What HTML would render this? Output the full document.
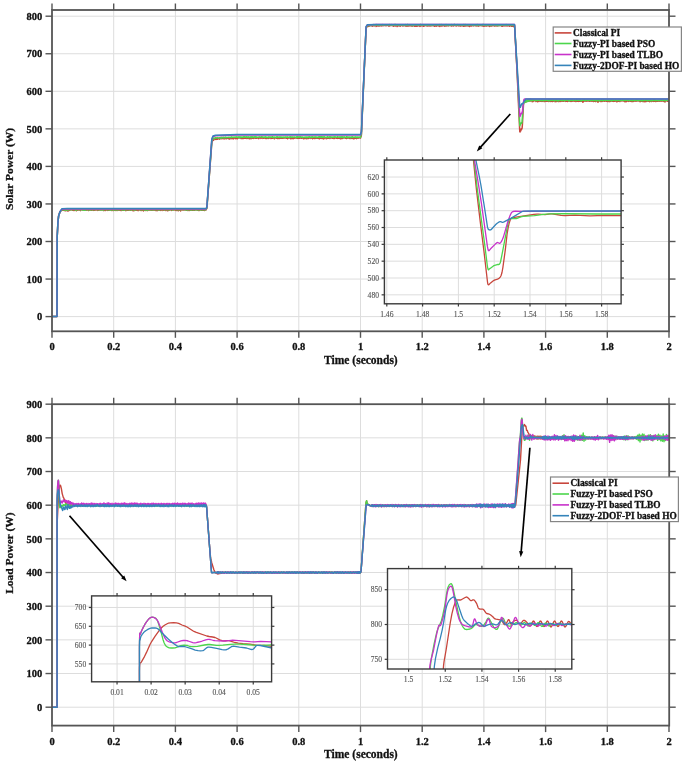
<!DOCTYPE html>
<html><head><meta charset="utf-8"><style>
html,body{margin:0;padding:0;background:#fff;}
svg{display:block;will-change:transform;}
</style></head><body>
<svg width="685" height="765" viewBox="0 0 685 765" font-family='"Liberation Serif", serif'>
<rect width="685" height="765" fill="#fff"/>
<line x1="113.7" y1="10" x2="113.7" y2="331.3" stroke="#dddddd" stroke-width="1" />
<line x1="175.4" y1="10" x2="175.4" y2="331.3" stroke="#dddddd" stroke-width="1" />
<line x1="237.1" y1="10" x2="237.1" y2="331.3" stroke="#dddddd" stroke-width="1" />
<line x1="298.8" y1="10" x2="298.8" y2="331.3" stroke="#dddddd" stroke-width="1" />
<line x1="360.5" y1="10" x2="360.5" y2="331.3" stroke="#dddddd" stroke-width="1" />
<line x1="422.2" y1="10" x2="422.2" y2="331.3" stroke="#dddddd" stroke-width="1" />
<line x1="483.9" y1="10" x2="483.9" y2="331.3" stroke="#dddddd" stroke-width="1" />
<line x1="545.6" y1="10" x2="545.6" y2="331.3" stroke="#dddddd" stroke-width="1" />
<line x1="607.3" y1="10" x2="607.3" y2="331.3" stroke="#dddddd" stroke-width="1" />
<line x1="52" y1="316.6" x2="669" y2="316.6" stroke="#dddddd" stroke-width="1" />
<line x1="52" y1="279.05" x2="669" y2="279.05" stroke="#dddddd" stroke-width="1" />
<line x1="52" y1="241.5" x2="669" y2="241.5" stroke="#dddddd" stroke-width="1" />
<line x1="52" y1="203.95" x2="669" y2="203.95" stroke="#dddddd" stroke-width="1" />
<line x1="52" y1="166.4" x2="669" y2="166.4" stroke="#dddddd" stroke-width="1" />
<line x1="52" y1="128.85" x2="669" y2="128.85" stroke="#dddddd" stroke-width="1" />
<line x1="52" y1="91.3" x2="669" y2="91.3" stroke="#dddddd" stroke-width="1" />
<line x1="52" y1="53.75" x2="669" y2="53.75" stroke="#dddddd" stroke-width="1" />
<line x1="52" y1="16.2" x2="669" y2="16.2" stroke="#dddddd" stroke-width="1" />
<clipPath id="c1"><rect x="52" y="10" width="617" height="321.3"/></clipPath>
<path d="M52,316.6 57,316.6 57.2,236.8 57.9,222.7 58.6,216.1 60,211.8 61.8,210.2 64.3,210.1 64.4,210.5 64.5,209.8 64.6,209.9 64.6,209.8 64.6,209.4 64.9,210.6 64.9,209.8 65,210.4 65.1,209.8 65.3,210.7 65.3,209.9 65.4,210.1 65.5,210 65.6,210.5 65.6,210.1 65.8,210.6 65.9,209.8 66,210.3 66.1,210.2 66.2,210.3 66.3,209.9 66.3,210.3 66.5,209.9 66.5,209.3 66.6,210.5 66.6,209.7 66.7,210 66.8,210 66.8,210.5 67,209.7 67.1,210.1 67.2,209.6 67.3,210.7 67.4,210.2 68,211.1 68.7,209.5 69.3,210.4 69.6,210.3 69.9,209.6 70.2,209.9 70.8,210 71.1,209.9 71.4,209.7 71.7,209.8 72.1,209.9 72.4,210.3 72.7,209.8 73,210.2 73.3,209.6 73.6,210.4 73.9,210 74.2,210 74.5,210.4 74.8,209.4 75.1,209.5 75.4,210.1 75.8,209.7 76.1,209.8 76.4,210.8 76.7,209.9 77.3,209.9 77.6,210.3 77.9,210 78.2,210 78.5,209.6 79.1,210 79.5,209.4 79.8,210.1 80.1,210.1 80.4,210.6 80.7,209.4 81,209.6 82.5,210 83.2,209.9 83.5,209.4 84.1,210 84.7,210.2 85,209.4 85.3,209.8 86.2,210.3 86.9,209.7 87.2,210.1 88.1,209.9 88.4,210.5 88.7,210 89,210.2 89.3,209.7 89.6,210.2 90.3,209.4 90.6,210.1 90.9,210.2 91.2,209.9 91.5,210 91.8,210.3 92.4,209.3 92.7,210 93,210 93.3,210.3 93.6,209.9 94,210.4 94.3,210.3 94.6,209.5 94.9,210.3 95.2,209.6 95.5,209.4 95.8,209.9 96.1,209.8 96.4,209.3 96.7,210 97.3,210.4 98,209.5 98.3,209.6 98.6,210.3 99.2,210.1 99.5,209.9 99.8,210 100.4,209.9 100.7,210.1 101.4,209.9 101.7,210 102,209.8 102.3,209.3 102.6,209.8 102.9,209.9 103.2,210.5 103.5,209.8 103.8,210.6 104.1,210.4 104.4,209.7 104.8,209.7 105.4,210.5 105.7,210.1 106,210.2 106.6,209.2 106.9,209.9 107.2,210.2 107.5,210.4 107.8,210 108.1,210 108.5,210.3 108.8,209.9 109.1,210.3 109.4,209.6 110,209.6 110.3,210.1 110.6,209.8 110.9,210 111.5,210.1 111.8,210.4 112.2,210.4 112.5,209.7 112.8,210 113.4,209.6 113.7,210.5 114.3,209.9 114.6,209.8 114.9,210.1 115.2,209.6 115.9,210.4 116.2,210.3 116.5,209.7 116.8,209.8 117.1,210.6 117.4,209.5 117.7,209.8 118,209.5 118.3,210.1 118.6,210.1 118.9,210.3 119.3,209.1 119.6,210 119.9,209.4 120.2,210.2 120.5,209.9 120.8,210.5 121.4,209.6 121.7,210.4 122,209.6 122.6,210.3 123.6,210 124.2,210.2 124.5,210.1 125.1,210.4 125.7,209.7 126,210.5 126.3,210 127,210.3 127.3,209.7 127.6,210.1 127.9,209.5 128.2,210.2 128.5,209.8 129.1,210.2 129.4,209.8 129.7,210 130.1,209.8 130.7,210.3 131,210 131.3,209.9 131.6,209.6 131.9,210.3 132.2,210 132.5,210.5 132.8,209.7 133.1,210.3 133.4,210.6 134.1,209.6 134.4,210.5 135,210.2 135.3,210.3 135.6,209.8 135.9,210.2 136.2,210.2 136.5,209.8 136.8,210.2 137.1,209.8 137.5,210.3 138.1,210.6 138.4,209.3 138.7,210.1 139,209.9 139.9,209.9 140.2,209.3 140.5,210.3 140.8,210.5 141.2,210.3 141.5,210.4 141.8,209.7 142.1,209.7 142.4,210.3 142.7,210.4 143.3,209.5 143.6,210.9 143.9,209.8 144.2,210.3 144.6,209.6 144.9,210.3 145.2,210.1 145.5,210.5 145.8,210.3 146.1,209.5 147.3,210.6 147.6,210.1 147.9,210 148.6,210 148.9,210.3 149.2,210 149.5,210 149.8,209.5 150.1,209.3 150.4,210 150.7,210.2 151,210 151.6,210.2 152,210 152.3,210.3 152.6,209.8 152.9,210 153.2,209.9 154.1,210.3 154.4,210 154.7,210.1 155,209.9 155.3,210 155.7,210.4 156,209.9 156.3,210.4 156.9,210.1 157.2,210.7 157.5,209.9 158.7,210.1 159,210.3 159.4,210 159.7,210.1 160,209.9 160.3,210.4 160.6,209.9 161.5,210.1 161.8,209.8 162.1,210.5 162.4,209.8 163.4,209.8 163.7,210.2 164.3,209.7 164.9,209.9 165.2,210.5 165.5,209.8 165.8,209.6 166.1,209.6 166.5,209.9 166.8,210.5 167.1,209.6 167.4,210 167.7,210.8 168,209.8 168.3,210.5 168.6,210.4 168.9,210.2 169.2,209.5 169.5,210.1 169.8,209.9 170.2,209.4 170.5,209.4 170.8,210 171.1,210 171.4,210.4 172,209.8 172.6,209.9 172.9,209.6 173.2,210.2 173.9,209.7 174.2,209.8 174.5,209.6 175.1,210.1 175.4,209.8 175.7,210.3 176,210.5 176.3,209.8 176.6,210 176.9,209.9 177.3,210.5 177.6,210.1 178.2,210.3 178.5,210.7 179.1,209.7 179.7,210.2 180.3,209.7 180.6,210.9 181,210 181.3,209.8 181.6,209.7 181.9,209.4 182.5,209.9 182.8,209.9 183.1,209.7 183.4,210.1 183.7,210 184.3,209.3 184.7,210 185.3,209.9 185.6,209.5 185.9,210 186.2,209.5 186.5,210.3 186.8,210 187.1,210 187.4,209.7 187.7,209.6 188,210.5 188.7,209.8 189.3,210.5 189.6,209.6 189.9,209.8 190.2,209.8 190.5,210.1 190.8,209.6 191.1,210 191.4,209.6 191.8,210.3 192.1,210.2 192.4,209.9 192.7,210.2 193,209.7 193.3,209.9 193.6,210.3 193.9,209.9 194.2,210.1 194.5,209.6 194.8,210.2 195.1,210.1 195.8,209.2 196.1,209.3 196.4,209.9 196.7,209.9 197,209.4 197.3,210 197.6,210.3 197.9,209.9 198.2,209.8 198.8,210.5 199.2,210.4 199.5,209.7 199.8,210.2 200.7,209.7 201,210.1 201.3,209.8 201.6,210.3 201.9,210.1 202.2,210.3 202.5,209.6 203.2,210.2 203.8,210 204.1,209.7 204.4,210.5 205,210.1 205.3,209.1 205.9,210 206.2,209.7 206.6,208.3 206.9,208.2 211.8,143.1 212.1,141.7 212.4,141.3 213,139.8 213.3,139.6 213.7,140.1 214,138.9 214.3,139.1 214.9,138.3 215.5,139.4 215.8,139.1 216.1,139.2 216.7,138.7 217,139.4 217.4,138.6 217.7,139.2 218,138.6 218.6,138.8 218.9,138.7 219.5,138.9 219.8,139.2 220.4,138 220.7,137.9 221.4,138.4 221.7,138.8 222,138.1 222.3,138.6 222.9,138.6 223.2,138.5 223.5,138.7 223.8,138.5 224.1,138.9 224.5,138.6 224.8,137.7 225.1,138.5 225.4,138.5 225.7,138.3 226,138.2 226.3,138.8 226.9,138.1 227.5,138.3 227.8,137.8 228.2,138.6 228.5,138.3 228.8,138.5 229.1,137.8 229.4,139 229.7,138.5 230,138.5 230.3,138.1 230.6,138.1 230.9,137.8 231.2,138.8 231.5,138 231.9,138.3 232.2,138.4 232.5,138 233.1,138.9 233.4,138.3 233.7,138.7 234.3,138 234.6,138 234.9,137.6 235.6,138.6 235.9,138.3 236.5,138.5 236.8,137.9 237.4,138.7 237.7,137.8 238,138.1 238.3,137.9 238.6,138 239,137.8 239.3,138 239.6,137.6 239.9,137.9 240.5,137.9 240.8,138.5 241.1,138.1 241.4,138.1 241.7,138 242,138.5 242.3,137.5 243,138.5 243.3,138.6 243.6,138.1 243.9,138.1 244.2,138.3 244.5,138 244.8,138.3 245.1,137.9 245.4,138.3 246,137.7 246.4,137.2 246.7,138.4 247,138.2 247.3,138.3 247.6,137.8 247.9,138.4 248.5,138.1 248.8,138.4 249.4,138.2 249.7,138.8 250.7,138 251,138.1 251.3,138.6 251.9,137.8 252.2,137.9 252.8,138.3 253.1,137.8 253.8,138.4 254.1,138.3 254.4,137.6 254.7,138 255,137.7 255.3,138.2 255.6,137.7 255.9,138.3 256.2,138.1 256.5,137.2 257.2,138.2 257.8,137.9 258.1,137.6 258.7,138.6 259,138.1 259.6,138 259.9,137.6 260.2,137.9 260.5,137.8 260.9,138.4 261.5,137.3 261.8,137.8 262.4,138 262.7,137.4 263,138.4 263.9,137.8 264.2,138.2 264.6,137.9 264.9,138.1 265.2,138 265.5,138.1 265.8,138.4 266.4,137.8 266.7,138.4 267.3,137.8 267.6,138.4 268,138 268.3,138.4 268.6,137.7 268.9,137.3 269.2,137.4 269.5,138.1 269.8,137.8 270.1,138 270.4,138 270.7,137.5 271,138.5 271.3,137.7 271.7,138.1 272,137.6 272.6,138.3 273.2,137.8 273.5,138 273.8,137.9 274.4,138.8 274.7,137.7 275.7,138 276,137.7 276.3,138.2 276.6,138.3 276.9,138.1 277.2,137.6 277.5,138.5 277.8,137.6 278.1,138.3 278.4,138.4 278.7,137.6 279.4,138.5 280,137.7 280.3,137.6 280.6,138.2 281.2,137.8 281.5,138.3 281.8,137.9 282.4,138.2 282.8,138.2 283.1,138 283.4,138 283.7,138.2 284,138.2 284.3,137.7 284.6,138 285.2,137.6 285.5,137.9 285.8,137.3 286.2,138.3 286.5,137.8 286.8,138.2 287.1,137.4 287.4,137.5 287.7,138.7 288.3,137.8 288.9,137.8 289.2,138.1 289.9,137.8 290.2,138.1 290.5,137.7 290.8,138.8 291.1,137.8 291.4,138.4 291.7,137.7 292.3,138.4 292.6,137.9 292.9,138.4 293.2,138.4 293.6,138.6 293.9,138.1 294.5,137.7 294.8,138.1 295.1,137.7 295.4,138 295.7,138.1 296.3,137.7 296.6,138.2 297.6,138 297.9,138.4 298.2,137.7 298.5,138.2 298.8,137.9 299.1,138.3 299.4,137.9 299.7,137.9 300,138.2 300.3,137.4 300.7,137.9 301,137.4 301.3,137.7 301.6,138.3 302.2,137.9 303.1,138.1 303.4,138.7 303.7,138.1 304,138.8 304.4,137.9 304.7,138.3 305,138.3 305.6,138 305.9,138.5 306.2,138.6 306.5,138.4 306.8,138.7 307.1,138.4 307.4,137.5 307.7,138.4 308.1,137.8 308.4,138.5 308.7,137.9 309,138.2 309.3,138.1 309.9,137.5 310.2,138 310.5,138 310.8,138.4 311.1,137.9 311.4,138.1 311.8,137.8 312.1,138.1 312.4,137.5 312.7,138.7 313.3,137.8 313.6,138.2 313.9,138.3 314.2,138.1 314.5,138.5 315.2,137.2 315.8,138.4 316.4,138.2 316.7,137.7 317,138.3 317.3,138.3 317.6,137.8 317.9,137.8 318.2,138.2 318.9,138.6 319.2,138.3 319.5,138.8 319.8,137.8 320.1,138.3 320.7,137.4 321,137.7 321.3,138.4 321.6,137.8 321.9,137.7 322.2,138.3 322.6,138.4 322.9,138.1 323.2,138.6 323.5,137.6 323.8,138.9 324.4,138.1 325.3,138 325.6,138.1 325.9,137.7 326.3,138.8 326.6,138 326.9,138.3 327.2,138 327.5,138 327.8,138.4 328.1,138.3 328.4,137.8 329,138.3 329.3,137.4 329.7,137.3 330,138.5 330.6,137.2 330.9,137.8 331.5,138.1 332.4,138.2 332.7,137.8 333,138.2 333.4,138.2 333.7,138.5 334,138.1 334.3,138.4 334.9,137.7 335.2,137.9 335.5,137.9 336.7,138.2 337.1,137.8 337.4,138.4 337.7,137.6 338.3,138.3 338.9,138.3 339.2,138 339.5,138.3 339.8,137.7 340.4,138.8 340.8,138.3 341.1,138.7 341.7,137.7 342,137.8 342.3,138.5 342.6,138.3 342.9,137.4 343.2,137.9 343.5,138 344.1,137.2 344.8,138 345.4,137.8 345.7,138.3 346,138.4 346.3,138 346.6,138.4 346.9,138.1 347.2,138 347.5,137.3 347.9,138.3 349.1,137.7 349.4,138.2 350,138.6 350.3,138.4 350.6,137.9 351.2,138.4 352.2,137.9 352.5,138.3 352.8,138.1 353.1,138.7 353.4,138.4 353.7,137.5 354,138.8 354.3,138.2 354.6,138 355.3,138.3 355.6,138.1 356.2,138.1 356.5,138.7 356.8,138.1 357.1,138.3 358.3,137.7 358.6,138.2 359,137.7 359.9,137.6 360.2,138.1 360.5,138.1 360.8,136.8 361.1,136.5 361.4,135 366.1,27.9 366.4,27.9 366.7,27.2 367,26.9 367.3,26.4 367.6,25.5 368.2,26.4 368.5,25.7 368.8,25.5 369.1,26 369.4,26.1 370.7,25.4 371.6,25.3 371.9,25.5 372.2,26.3 372.5,25.8 372.8,25.6 373.1,25.8 373.5,25.4 373.8,25.8 374.1,26 374.4,25.2 375,25.6 375.3,25.3 375.6,25.2 375.9,25.5 376.2,26.4 376.5,25.8 376.9,25.7 377.2,25.9 377.8,25.2 378.1,25.8 378.4,26 378.7,24.9 379,25.7 379.3,26 379.6,25.5 379.9,25.4 380.2,25.8 380.6,25.3 380.9,25.8 381.2,25.9 381.8,25.3 382.1,25.8 382.4,25.5 382.7,25.6 383,24.6 383.3,25.8 383.6,25.1 383.9,25.6 384.3,25.6 384.6,25.3 385.2,25.2 385.8,25.8 386.1,25.8 386.4,25.4 386.7,25.4 387,25.1 387.3,25.4 388,25.1 388.6,26.1 388.9,26 389.2,26.1 389.5,25 389.8,25.9 390.1,25.2 390.4,25.4 390.7,25 391.4,25.6 392.3,25.5 392.6,25.8 392.9,25.6 393.2,25 393.5,26.2 393.8,25.5 394.1,25.9 394.7,25.3 395.1,25.6 395.4,25.3 395.7,26.1 396,25.2 396.3,25.8 396.6,25.4 396.9,25.5 397.2,26.5 397.5,25.8 398.1,25.1 398.4,25.5 398.8,25.5 399.1,26.1 399.4,25.1 399.7,25 400,25.6 400.3,25.7 400.6,26.1 401.2,24.7 401.5,25.3 401.8,25.2 402.1,25.4 402.5,25.9 402.8,25.1 403.1,26 403.4,25.7 404,25.3 404.6,25.5 405.2,26 405.5,25.6 406.2,26 406.5,26 406.8,25.8 407.1,26.2 407.4,26 407.7,26.1 408,25.5 408.3,25.4 408.6,24.9 408.9,26.1 409.6,25.3 409.9,25.7 410.2,25.7 410.5,25 410.8,25.7 411.1,26 411.4,26 411.7,25.5 412,25.5 412.3,26.1 412.6,25.9 412.9,25.4 413.3,25.4 413.6,25.8 413.9,25.4 414.2,25.4 414.5,26.2 414.8,25.7 415.1,25.4 415.7,26.3 416,25.7 416.6,25.1 417,26.3 417.3,24.7 417.6,26 417.9,25.3 418.2,25.2 418.5,25.3 419.1,26 419.4,25.4 420,26.4 420.3,24.6 420.7,25.3 421,25 421.3,25.9 421.6,25.1 422.2,25.1 422.8,26 423.1,25.6 423.4,26.3 423.7,26.2 424.1,25.6 424.4,25.9 424.7,25.6 425,25.6 425.3,24.9 425.6,25.1 425.9,25.6 426.2,25.2 426.5,25.9 426.8,25.7 427.1,25.3 427.4,26 427.8,25.7 428.1,26 428.7,25 429,25.8 429.3,25.5 429.6,25.9 430.2,26 430.5,25.1 430.8,24.8 431.5,25.8 431.8,25.3 432.1,25.7 432.4,25.3 432.7,25.5 433.3,25.4 433.6,25.8 433.9,25.7 434.2,26.2 434.5,25.7 434.8,26.1 435.2,25.6 435.5,25.9 435.8,25.6 436.1,25.4 436.4,26.1 436.7,25.9 437,25.9 437.6,25 438.2,25.7 438.6,25.1 438.9,26.1 439.2,25.1 439.8,26.5 440.1,24.7 440.4,25.1 440.7,25.9 441,25.5 441.3,25.7 441.6,25.6 441.9,26.1 442.6,25.4 442.9,25.5 443.2,25.2 443.5,25.6 443.8,24.8 444.1,25.8 444.4,25.5 444.7,26.2 445,26 445.3,25.1 445.6,25.9 446,25.4 446.6,25.9 446.9,25.7 447.5,25.8 447.8,25.3 448.1,25.4 448.4,25.8 448.7,25.9 449,25.5 449.3,25.6 450,24.7 450.3,25.3 450.6,25.6 450.9,25.6 451.2,25.9 451.8,25.9 452.1,25.7 452.4,25.7 452.7,25.3 453.1,25.7 453.4,25.7 453.7,26 454,25 454.3,25.4 454.6,25 454.9,25.3 455.2,25.1 455.5,25.7 455.8,25.3 456.1,24.7 456.4,26 456.8,25.2 457.1,25 457.4,25.4 458,25.2 458.3,25.8 458.6,25.4 458.9,25.9 459.5,25.8 460.5,25.4 460.8,26.1 461.1,24.9 462,25.7 462.6,25.4 462.9,25.4 463.2,26.2 463.8,24.6 464.2,26.2 464.5,25.2 465.1,25.6 465.4,25.1 465.7,26 466.3,25.1 466.6,25.7 466.9,25.7 467.2,25.5 467.5,25.7 467.9,25.1 468.2,25.9 468.5,25.3 468.8,26 469.1,25.4 469.4,25.6 469.7,26.5 470,25.6 470.3,26 470.6,25.7 470.9,25.1 471.3,26 471.6,26 471.9,25.1 472.2,25.5 472.5,25.1 473.1,25.9 473.7,25.2 474,25.3 474.3,25.6 475,25.6 475.3,25.8 475.6,24.9 476.2,26 476.8,25.3 477.1,25.4 477.7,25.8 478,25.6 478.3,26.2 478.7,26 479,25.3 479.3,25.8 479.9,25.2 480.5,25.6 480.8,24.8 481.4,25.7 481.7,25.3 482,25.4 482.4,25.9 482.7,25.6 483,25.6 483.3,26.3 483.6,25.6 484.2,25.7 484.5,26.2 484.8,25.7 485.4,25.6 485.8,26 486.1,25.4 486.4,26 487,25.1 487.3,25.8 487.6,25.8 487.9,25.2 488.2,25.7 488.5,25.7 489.1,25.2 489.5,26.4 489.8,25.9 490.4,26 491,25.9 491.3,25.5 491.6,25.9 491.9,25.5 492.2,25.4 492.5,25.8 493.2,25 493.8,25.8 494.1,25.6 494.4,25.9 495,25.3 495.3,25.9 495.6,25.7 495.9,25.2 496.2,25.8 496.5,25.5 496.9,25.9 497.5,25.8 497.8,24.9 498.1,25.7 498.7,25.8 499.3,25.4 499.6,25.5 499.9,24.9 500.3,25.5 500.6,25.1 500.9,25.5 501.2,25.4 501.5,26.1 501.8,25.6 502.4,25.7 502.7,26.3 503,25.3 503.3,25.7 504.3,25.7 504.6,25.4 504.9,26 505.2,25.9 505.5,25.5 506.7,25.9 507.3,25.2 507.7,25.9 508,25.1 508.6,25.7 508.9,25.3 509.2,26.1 509.5,26.2 510.1,25.7 510.7,25.8 511,25.6 511.4,26.3 511.7,25.4 511.7,26.1 511.8,25.7 511.9,26.1 512,25.4 512.2,25.9 512.3,25.9 512.3,25.4 512.3,26.3 512.4,25.2 512.5,25.9 512.6,25.2 512.7,25.5 512.8,25.2 512.9,25.6 512.9,25.1 513,25.9 513.1,25.3 513.2,26 513.2,25.4 513.3,25.5 513.3,26.3 513.5,25.4 513.6,26.4 513.6,25.4 513.7,25.8 513.7,25.3 513.8,26.2 513.8,25.4 513.8,25.7 513.9,25.3 514,25.8 514,24.8 514.1,25.9 514.2,25.7 514.2,25.9 514.3,25 514.4,26.2 514.4,25.2 514.6,26.2 517.2,73.6 518.3,100.3 519.7,130.1 519.8,131.6 519.9,131.5 520,131.9 520,131.1 520.1,132 520.3,130.4 520.4,131.2 520.5,129.9 520.6,130.7 520.6,130.2 520.7,130.6 520.8,130.1 520.9,130.7 520.9,129.6 521.1,130.1 521.1,129.1 521.2,129.5 521.2,129 521.3,129.7 521.4,129.2 521.4,129.5 521.6,128.9 521.7,129.2 521.8,128.8 521.8,129 522.1,128.2 522.4,124.8 523.5,104.2 523.5,104.8 523.8,102 524,102.1 524,101.9 524.1,102.5 524.2,101.7 524.3,102 524.3,101.5 524.4,102.2 524.5,101.3 524.6,102.1 524.7,101.8 524.8,102.2 524.8,101.6 524.9,102 524.9,101.3 525,101.8 525.1,101.3 525.2,101.8 525.3,100.9 525.4,101.8 525.6,100.7 525.8,101.7 525.9,100.3 526,101.9 526.1,101.1 526.2,101.5 526.3,100.9 526.4,101.3 526.4,100.7 526.5,101.4 526.7,100.6 526.7,101.4 526.8,100.6 526.9,101.1 527,100.3 527.1,101.3 527.3,100 527.4,100.8 527.6,100.4 527.6,101 527.7,100 527.7,100.8 527.8,100.3 528,101.2 528.1,99.7 528.2,100.6 528.3,100.3 528.3,100.7 528.4,100.2 528.5,100.5 528.6,99.8 528.7,100.2 528.8,99.9 528.8,100.4 528.9,99.8 529,100.9 529.1,100 529.2,100.7 529.2,100.5 529.4,100.9 529.4,100.5 529.5,101.1 529.5,100.5 529.7,101 529.7,99.9 529.8,101 529.9,100 530,100.9 530.1,99.8 530.1,100.7 530.3,99.6 530.5,100.7 530.5,99.5 530.6,101 530.8,99.6 530.8,100.3 530.9,99.7 531,100.3 531,99.9 531.3,100.6 531.3,99.9 531.4,100.8 531.4,100 531.5,100.7 531.7,100.2 531.9,101.2 532,100.4 532,100.9 532.1,100.3 532.2,101.7 532.3,100 532.4,101.1 532.6,100.5 532.7,101.3 532.7,100.5 532.8,101.3 532.9,100.6 533,101.3 533.2,100.6 533.2,101.5 533.3,100.9 534.2,100.7 534.5,100.3 534.8,100.7 535.1,100.6 535.4,100.7 535.7,100.3 536,101.6 536.3,100.6 536.7,101.1 537,101.2 537.6,101.7 537.9,101.2 538.2,101.3 538.5,100.8 538.8,101.5 539.1,100.5 539.4,100.8 540,101.1 540.7,101.3 541.3,100.9 541.6,101 541.9,101.4 542.2,101 542.5,101.3 543.1,100.4 544.1,101.6 544.4,101.5 544.7,101.6 545,100.8 545.3,101.3 545.6,101 545.9,101.2 546.5,100.5 546.8,101.2 547.1,101.1 547.5,101.3 547.8,100.7 548.1,101.3 549,101.5 549.6,100.1 549.9,101.3 550.2,100.7 550.8,101.4 551.2,101.1 551.5,101.1 551.8,101.2 552.1,100.3 552.4,101.6 552.7,100.9 553,100.9 553.3,101.2 553.9,100.7 554.2,101 554.9,100.8 555.2,101.7 555.5,100.5 555.8,100.2 556.1,100.7 556.4,100.7 556.7,101.5 557,101 557.3,101.3 557.6,101.2 557.9,100.7 558.2,101.3 558.6,101 558.9,101.6 559.2,101.1 559.5,101 559.8,101.2 560.1,101.2 560.4,100.4 560.7,101.4 561.3,101.3 561.6,100.6 562,100.3 562.6,101.2 562.9,101.1 563.2,100.6 563.5,101.3 563.8,100.5 564.1,100.5 564.4,101 565,100.7 565.3,100.5 565.7,101.4 566,100.6 566.3,101.1 566.6,101.3 566.9,101 567.8,101.5 568.1,101.3 568.4,100.5 568.7,100.3 569,100.8 569.4,100.6 569.7,101.2 570.3,100.9 570.6,101.4 570.9,101.3 571.2,101 571.8,101.4 572.1,100.9 572.4,101.1 572.7,100.7 573.1,101 573.4,101.1 573.7,101 574.3,101.2 574.6,101.1 574.9,100.7 575.2,100.8 575.5,100.6 575.8,101.6 576.1,101.1 576.4,101.1 576.8,100.9 577.1,101.2 577.4,101.2 577.7,100.7 578,100.9 578.3,101.4 578.6,100.6 578.9,100.7 579.2,101.2 579.5,100.7 579.8,101.3 580.2,100.6 580.5,101.1 580.8,101.3 581.1,101.1 581.4,101.3 581.7,100.9 582.3,101 582.6,101.2 582.9,102.2 583.2,101 583.5,101.6 583.9,100.9 584.2,100.6 584.8,101.1 585.4,101 586.3,101.3 586.6,100.6 586.9,101 587.2,100.7 587.6,101.1 587.9,101 588.2,101.1 588.8,100.7 589.4,101.2 589.7,101.3 590,100.4 590.3,101.1 590.6,101.1 590.9,100.5 591.6,100.8 591.9,101.1 592.2,100.2 592.5,100.9 592.8,100.8 593.4,101.5 593.7,101.5 594,100.9 594.3,100.9 595,101.4 595.3,101.5 595.6,101.1 595.9,101.5 596.2,100.7 596.5,100.6 596.8,100 597.4,101.2 597.7,101.3 598,102.2 598.4,101.2 598.7,101.1 599,100.7 599.9,100.9 600.5,100.5 600.8,101.4 601.1,101.2 601.4,101.5 601.7,100.5 602.4,100.7 602.7,101.4 603,100.9 603.3,101.1 603.6,101 603.9,101.1 604.2,100.8 604.5,101.1 604.8,100.7 605.4,101.1 605.8,101 606.1,101.2 606.4,100.7 606.7,101.1 607,100.9 607.6,101.5 607.9,100.7 608.2,101.4 608.5,100.8 608.8,100.9 609.2,101.6 609.8,101.2 610.4,101.4 610.7,100.8 611,101.1 611.3,100.9 611.6,101.1 611.9,100.9 612.2,101.3 612.9,100.8 613.8,101.4 614.1,100.9 614.4,100.9 615,101.3 615.6,100.2 615.9,101.1 616.2,100.9 616.6,100.9 616.9,101.9 617.2,101 617.5,101.2 617.8,100.5 618.1,101.1 618.4,101.3 619,100.9 619.3,101.2 619.6,101 619.9,101.5 620.9,100.3 621.2,100.8 621.5,100.9 621.8,100.6 622.1,100.7 622.4,100.4 623,101 623.3,100.9 624.3,100.9 624.9,101.7 625.2,101.2 625.5,101.7 625.8,101 626.1,101 626.4,101.6 626.7,100.8 627,100.7 627.4,101 627.7,100.4 628,100.4 628.3,101.4 628.6,100.7 628.9,100.9 629.2,100.9 629.5,100.7 629.8,101.2 630.7,101.3 631.1,101 631.4,101.5 631.7,101.4 632,100.8 632.3,101 632.6,100.9 632.9,101.6 633.2,101.3 633.8,101 634.1,101.2 634.4,100.7 634.8,101 635.4,101 635.7,100.8 636,101.2 636.3,100.6 636.6,100.8 637.2,101 637.8,100.7 638.5,100.9 638.8,100.7 639.1,101 639.4,100.6 640,101.7 640.3,100.5 640.9,101.4 641.2,101.1 641.5,101.3 641.9,100.3 642.5,101.5 642.8,100.8 643.1,101.1 643.4,100.4 643.7,101.4 644,101.8 644.3,101 644.9,101.1 645.2,101.7 645.6,100.9 645.9,100.4 646.2,101.6 646.5,100.6 646.8,101.2 647.1,100.2 647.4,100.9 647.7,101.1 648,100.6 648.6,101.2 648.9,100.8 649.6,101.6 649.9,100.3 650.2,101.1 650.5,101.2 650.8,100.9 651.1,101.5 651.4,101.5 651.7,101.2 652,101.2 652.6,100.6 653,101.2 653.3,100.8 653.6,100.8 653.9,101.4 654.2,100.9 654.5,101.3 654.8,100.6 655.4,101 655.7,101.5 656,101 656.4,101.3 656.7,100.8 657.3,101.3 657.6,100.7 657.9,100.8 658.2,101.2 658.5,100.6 658.8,101.1 659.4,101 659.7,101.3 660.4,101.1 660.7,100.5 661,100.5 661.3,101.1 661.6,100.5 661.9,101 662.5,100.7 662.8,100.9 663.1,100.2 663.8,101.4 664.1,100.6 664.4,101.1 664.7,101.1 665,102 665.3,100.7 665.9,100.7 666.2,100.7 666.5,100.4 666.8,101 667.1,100.7 667.5,101.3 667.8,101.1 668.1,100.6 668.4,100.9 668.7,101.5 669,100.9" fill="none" stroke="#c8463c" stroke-width="1.5" stroke-linejoin="round" clip-path="url(#c1)"/>
<path d="M52,316.6 57,316.6 57.2,236.8 57.9,222.7 58.6,216.1 60,211.8 61.8,209.8 64.3,209.7 64.4,210 64.5,209.6 64.6,210 64.7,209.4 64.9,209.8 65,209.4 65.1,209.8 65.3,209.4 65.3,209.8 65.5,209.3 65.6,210.2 65.9,209.5 66,209.8 66,209.6 66.1,209.8 66.2,209.6 66.2,209.8 66.3,209 66.4,209.8 66.5,209.8 66.5,209.7 66.6,210 66.8,209.4 66.8,209.7 67,209.9 67.2,209.3 67.3,209.7 67.3,209.3 67.4,209.5 67.7,209.6 68,210 68.4,209.9 68.7,209.4 69,209.3 69.3,209.5 69.6,209.4 69.9,209.7 70.5,209.7 70.8,209.4 71.4,209.6 71.7,209.7 72.1,209.5 72.4,209.5 72.7,209.8 73,209.2 73.3,209.5 73.6,209.6 73.9,209.2 74.5,209.6 74.8,209.5 75.1,209.8 75.4,209.7 75.8,210.1 76.1,209.3 76.4,210 76.7,209.4 77,209.8 77.3,209.8 78.2,209.4 78.5,209.2 78.8,209.5 79.1,209.4 79.5,209.7 79.8,209.4 80.4,209.7 81.6,209.5 82.2,209.7 82.5,209.4 82.8,210 83.5,209.2 83.8,210.2 84.4,209.4 84.7,210 85,209 85.3,210.2 85.6,209.3 85.9,209.2 86.6,209.6 86.9,209.5 87.2,209.8 87.5,209.4 87.8,209.8 88.4,209.4 88.7,209.8 89.3,209.5 89.6,209.9 89.9,209.3 90.3,209.5 90.6,209.9 90.9,209.6 91.2,209.8 91.8,209.6 92.1,209.7 92.4,209.4 92.7,209.7 93,209.4 93.3,209.6 93.6,209.4 94,209.7 94.6,209.8 94.9,209.5 95.2,209.4 95.5,209.1 96.4,209.6 96.7,209.5 97,209.6 97.3,209.3 97.7,209.4 98,209.8 98.3,209.7 98.6,209.3 99.2,209.6 99.5,209.3 99.8,209.7 100.4,209.7 100.7,210 101.1,209.4 101.4,209.9 101.7,209.7 102,209.8 102.3,209.4 102.6,209.6 102.9,209.6 103.2,210 103.5,209.6 103.8,209.9 104.1,209.5 104.8,209.6 105.1,209.1 105.4,209.5 106.3,209.6 106.6,209.4 106.9,209.3 107.2,209.9 107.5,209.3 107.8,209.5 108.1,209.4 108.5,209.5 108.8,209.9 109.1,209.8 109.4,209.2 110,209.9 110.3,209.5 110.9,210 111.2,210.1 111.5,209.9 111.8,209.5 112.5,209.6 113.1,209.4 113.4,210.1 113.7,209.7 114.3,209.9 114.9,209.6 115.2,209.6 115.6,209.9 115.9,209.7 116.2,209.1 116.5,209.8 116.8,210 117.1,209.5 117.4,209.4 117.7,209.5 118,209.8 118.3,209.4 118.6,209.8 118.9,209.8 119.9,209.4 120.5,209.6 120.8,209.4 121.1,209.6 121.4,209.4 121.7,209.9 122,209.9 122.3,209.4 122.6,209.9 123,209.7 123.9,209.7 124.2,209.3 124.5,210.2 124.8,209.4 125.1,209.1 125.4,209.6 125.7,209.6 126.3,209.2 126.7,209.9 127,209.6 127.3,209.6 127.6,209.5 127.9,209.5 128.2,209.4 128.5,209.7 128.8,209.6 129.1,209.7 130.1,209.6 130.4,209.8 130.7,209.2 131.3,209.9 131.6,209.3 131.9,209.8 132.2,209.5 132.5,209.6 133.1,209.5 133.4,209.7 133.8,209.6 134.1,209.1 134.4,210.1 134.7,209.6 135,209.5 135.3,209.8 135.6,209.9 135.9,209.1 136.2,209.7 136.5,209.1 136.8,209.5 137.1,209.6 138.1,209.3 138.4,209.5 139,209.5 139.3,209.3 139.6,209.4 139.9,209.8 140.5,209.5 140.8,209.7 141.2,209.7 141.5,209.8 142.4,209.4 142.7,209.6 143,209.1 143.3,209.6 143.6,208.9 143.9,209.4 144.6,209.7 144.9,210.2 145.2,209.6 145.5,209.5 145.8,209.1 146.1,209.9 146.4,209.2 146.7,209.6 147,209.4 147.3,210.2 147.6,209.6 147.9,209.7 148.3,209.4 148.9,209.8 149.2,209.4 149.8,209.4 150.4,209.3 151,209.9 151.3,209.9 151.6,209.3 152.6,209.7 153.2,209.6 153.8,209.7 154.1,209.1 154.4,209.5 155,209.9 155.7,209.4 156,209.4 156.3,209.6 156.6,209.6 157.2,209.8 157.5,209.3 157.8,209.5 158.1,209 158.4,209.8 159,209.4 159.7,209.9 160.3,209.6 160.9,209.6 161.2,209.4 162.4,209.6 163.1,209.4 163.4,209.6 163.7,209.5 164.3,209.9 164.6,209.8 164.9,209.4 165.2,209.5 165.5,209.2 165.8,209.6 166.5,209.3 166.8,209.4 167.1,209.7 167.7,209.6 168,209.8 168.3,209.5 168.6,209.4 168.9,209.7 169.2,209.1 169.5,209.6 170.5,209.7 170.8,209.5 171.1,209.6 171.4,209.2 171.7,209.4 172.3,209.6 172.6,209.9 172.9,209.6 173.2,209.8 173.5,209.4 173.9,209.6 174.2,209.2 174.5,209.4 175.1,209.5 176,209.4 176.3,209.7 176.9,209 177.3,209.6 178.2,209.9 178.5,209.3 178.8,209.6 179.1,209.5 179.7,209 180,209.8 180.3,209.3 181.6,209.6 181.9,209.2 182.5,209.5 182.8,209.3 183.7,209.5 184,209.2 185,209.8 185.3,209.7 185.6,209.8 185.9,209.6 186.2,209.5 186.5,210 186.8,209.6 187.1,209.4 187.7,209.8 188,209.3 188.4,209.7 188.7,209.9 189,209.8 189.6,209.4 189.9,209.3 190.5,209.9 190.8,209.7 191.1,209.8 191.4,209.6 191.8,210 192.1,209.6 192.4,209.4 192.7,209.6 193,209.5 193.3,209.8 193.6,209.9 194.2,209.3 194.5,209.4 194.8,209.7 195.1,209.3 195.5,209.7 195.8,209.2 196.4,209.7 196.7,209.4 197,209.8 197.6,209.9 197.9,209.5 198.8,209.7 199.2,209.3 199.5,209.7 199.8,209.7 200.1,209.3 200.4,209.3 201,210 201.6,209.4 201.9,209.6 202.2,209.2 202.5,209.9 202.9,209.4 203.2,209.7 203.5,209.3 203.8,209.6 204.1,209.4 204.7,209.9 205.3,209.7 205.6,209.8 205.9,209.3 206.2,209.3 206.9,207.9 211.8,141.8 213,138.5 213.3,138.1 213.7,138.8 214,138.3 215.2,138 215.5,137.6 215.8,138 217,137.8 217.4,137.6 217.7,137.8 218.3,137.8 218.6,138 219.2,138 219.5,137.7 220.1,137.9 220.4,137.6 220.7,137.6 221.1,138.1 221.4,137.3 221.7,137.6 222,137.7 222.3,137.4 222.9,137.7 223.2,137.1 223.5,137.8 224.1,137.4 224.5,137.8 225.1,137.4 225.4,137 225.7,137.7 226.3,137.3 226.9,137.7 227.2,137.4 227.5,137.4 228.2,137.2 229.1,137.3 229.4,137.6 230,137.3 230.3,137.4 230.6,137.3 230.9,137.5 231.2,137 231.5,136.8 231.9,137.4 232.2,137.2 232.5,137.3 232.8,137 233.7,137.3 234,137.2 234.3,137.4 234.6,137 234.9,137.3 235.2,137.1 235.6,137.1 235.9,136.9 236.2,137.1 236.5,136.9 236.8,137.3 237.1,137 237.4,137.2 238,137.1 238.3,136.9 238.6,137.6 239,137 239.3,137.4 239.6,136.8 239.9,137.6 240.2,137.3 240.5,137.5 240.8,136.7 241.1,137.4 241.4,137.1 242,137.5 242.7,137 243,137.2 243.3,136.9 243.6,137.2 243.9,137.1 244.2,137.2 244.8,136.7 245.1,137 246,137.3 246.4,136.8 246.7,137.4 247.3,137.1 247.6,137.2 247.9,136.7 248.2,137.6 248.5,137 248.8,137 249.1,137.4 249.4,137.3 250.1,136.7 250.4,137.3 250.7,137.5 251,136.9 251.3,136.8 251.9,137.6 252.2,136.8 252.5,137.2 252.8,136.9 253.1,137.1 253.8,137.2 254.1,136.8 254.4,136.8 254.7,137.6 255,137.3 255.3,136.7 255.6,137.2 255.9,137.4 256.2,137.1 257.8,137.2 258.1,137 258.4,137.3 259,137.1 259.3,136.8 259.9,137.1 260.9,136.9 261.2,137 261.5,136.7 262.4,137.2 262.7,136.9 263,137 263.6,137.4 263.9,137.5 264.2,137 264.6,136.9 264.9,136.9 265.2,137.4 265.5,136.9 265.8,137.2 266.1,137 266.4,137 266.7,137.3 267,137.2 267.3,137.6 267.6,137.3 268,137.5 268.3,137 268.6,137.1 268.9,136.9 269.5,137.3 269.8,137 270.1,137.2 270.4,137 270.7,137 271,137.3 271.3,137.1 272,137.2 272.6,136.7 272.9,137.2 273.2,137.2 273.5,137.6 273.8,137.1 274.1,137.2 274.4,137.6 274.7,137 275,137 275.4,137.3 275.7,137.2 276,137.3 276.3,136.9 276.6,137.5 277.2,136.7 277.5,137.1 277.8,137 278.4,137.4 279.1,137 279.4,137.3 280,136.8 280.3,136.9 280.6,137.5 280.9,137.3 281.2,137.5 281.5,136.9 282.1,137 282.4,137.3 282.8,137.4 283.1,137.1 283.4,137.1 283.7,137.3 284.3,137 284.6,137.1 285.2,137.6 285.5,137.2 285.8,137.1 286.8,137.3 287.1,136.9 287.4,137.1 287.7,137.1 288,137.3 288.6,137.1 288.9,137.3 289.2,137.4 289.9,136.8 290.2,137.1 290.5,136.8 290.8,137.1 291.1,137.2 291.4,137.4 291.7,137.2 292,136.8 292.3,137 292.9,137 293.6,137.2 294.2,137 294.8,137 295.4,137.3 295.7,137.2 296,137.3 296.3,136.9 296.6,137.6 297.3,136.6 297.6,137.2 297.9,137.4 298.5,136.8 298.8,137.1 299.1,137 299.7,137.2 300,136.4 300.3,137.1 300.7,137.2 301.9,136.9 302.2,137.1 302.5,137.4 302.8,137 303.1,137.2 303.4,137.2 303.7,137.4 304,137.2 304.4,137.3 304.7,137.1 305,137.4 305.3,137.1 305.6,137.1 305.9,137.4 306.2,137.3 306.5,137.3 306.8,136.9 307.1,137.7 307.4,137.2 307.7,137.5 308.4,136.9 308.7,137.3 309,137.1 309.3,137.3 309.6,136.7 309.9,136.9 310.2,136.9 310.5,137.4 310.8,137.4 311.1,136.9 311.4,137.2 312.1,137 312.4,137.4 312.7,136.9 313,137.1 313.3,137 313.6,137.3 313.9,137 314.2,137.3 314.5,136.9 315.8,137 316.1,137.7 316.4,136.9 316.7,137.2 317,137.1 317.6,137.4 318.5,136.8 318.9,137.3 319.2,137.3 319.5,136.8 319.8,137.3 320.1,136.6 320.4,137.1 320.7,137.3 321,136.9 321.3,136.7 321.6,137.4 321.9,136.8 322.2,137.2 322.6,136.8 323.2,137.5 323.5,137 324.1,136.6 325,137.2 325.9,137.3 326.3,137.2 326.6,137.7 326.9,137.1 327.2,137.1 327.5,136.5 328.1,137.2 328.4,137 328.7,137.4 329,137.2 329.3,137.5 329.7,136.8 330.3,137.4 330.9,136.9 331.5,137 331.8,137.3 332.7,136.9 333,137.3 333.4,137.4 333.7,136.9 334,137.3 334.3,136.9 334.6,137.1 335.2,136.7 335.5,137 335.8,136.9 336.1,137.3 336.4,137.3 337.1,136.8 337.4,136.8 337.7,136.6 338,137 338.3,137.1 338.6,136.9 339.5,137.3 339.8,136.9 340.1,137.4 340.4,137 340.8,137.4 341.1,136.9 341.4,137.3 341.7,136.9 342,137.5 342.6,136.8 342.9,137.3 343.2,137.1 343.5,137.2 343.8,137.6 344.1,137 344.5,137 344.8,137.4 345.1,137 345.4,137.3 345.7,137.3 346,137.1 346.3,137.3 346.6,136.6 346.9,137.5 347.2,136.9 347.5,136.9 347.9,137.6 348.2,137.5 348.5,137 348.8,137.2 349.4,136.9 350.3,137.7 350.6,137.1 350.9,137.3 351.2,137 351.6,137.1 351.9,137.4 352.2,136.7 352.8,136.9 353.1,137.4 353.4,137.2 354,137.2 354.3,137.4 354.6,137 355.3,137 355.6,137.2 355.9,136.8 356.2,137.1 356.5,137.7 356.8,137.3 357.4,136.9 357.7,137.2 358.3,137.3 358.6,137 359,137.2 359.6,137.3 359.9,137 360.5,137.5 360.8,136 361.1,135.3 361.4,134 366.1,27.3 366.7,26.2 367,26.2 367.3,25.2 367.6,25.5 367.9,25.5 368.2,25 369.1,25.7 369.4,25.3 369.8,25.2 370.4,25.5 370.7,25.4 371,25.5 371.3,25.2 371.9,25 372.2,25.4 372.8,25 373.1,25.3 373.5,25.2 373.8,24.6 374.1,25.1 374.4,24.9 374.7,25.2 375,25.1 375.3,25.4 376.2,24.6 377.5,25.2 378.1,24.9 378.4,25.2 378.7,24.8 379,25.2 379.3,25.4 379.6,25.3 379.9,25.4 380.2,25.3 380.6,24.8 380.9,25.1 381.5,24.8 381.8,24.7 382.1,25.1 382.4,24.7 383,25 383.3,24.9 383.6,25.3 384.6,24.9 384.9,25.1 385.8,24.7 386.1,24.9 386.4,24.7 386.7,25.1 387.3,25 388,25.1 388.3,24.7 388.6,25.1 388.9,25.2 389.5,24.6 389.8,25 390.1,24.7 390.4,25.1 391,25.2 391.4,25.1 391.7,24.6 392,25.3 392.3,24.7 392.6,25.3 393.2,24.8 393.8,25 394.1,25.4 394.4,24.9 394.7,25.3 395.1,24.4 395.4,25.1 395.7,25 396,25.3 396.3,25.1 396.6,25.3 396.9,24.8 397.2,25.1 397.5,24.9 397.8,25.2 398.1,25.1 398.4,24.7 398.8,25.2 399.1,25.4 399.4,24.9 399.7,25.3 400.3,24.8 400.6,25.2 400.9,24.8 401.2,25.2 401.5,24.7 401.8,24.7 402.1,25.1 402.5,25.1 402.8,25.2 403.4,24.8 403.7,25.4 404,24.8 404.3,25.3 404.6,25.2 404.9,25.4 405.2,24.6 405.5,25 405.8,25 406.2,25.2 406.5,24.8 406.8,25.5 407.4,24.5 407.7,25.1 408.3,24.9 408.6,25.2 409.2,24.8 410.2,25.1 410.5,25 410.8,25 411.1,24.7 411.7,25.1 412,25.6 412.3,24.9 412.6,24.9 413.3,25.5 413.6,25.3 413.9,24.8 414.2,25.3 415.1,24.7 415.4,25 416,25.1 416.3,24.7 416.6,24.8 417.3,25.3 417.9,24.9 418.2,25.2 418.5,24.8 418.8,24.9 419.7,24.9 420,25.2 420.3,25.1 420.7,24.5 421,25.3 421.6,24.8 421.9,25.1 422.5,25.3 422.8,24.9 423.4,24.7 423.7,25 424.1,24.8 424.4,25.3 424.7,25 425,25.2 425.9,24.8 426.2,25.2 426.5,24.7 426.8,25.1 427.1,25.3 427.4,25.1 427.8,25.4 428.1,25 428.4,25 428.7,25.1 429,24.9 429.3,25.1 429.6,25 429.9,25.3 430.2,25 430.5,25.2 431.5,25 431.8,25.4 432.1,25.4 432.7,24.9 433,24.9 433.6,24.7 434.5,25.3 435.5,25 436.4,25.1 436.7,24.9 437.6,25 438.2,25.3 438.6,24.9 439.5,25.1 439.8,24.5 440.1,25.2 440.7,25 441,25.3 441.6,24.6 441.9,24.8 442.9,25 443.2,24.8 443.5,25.1 443.8,25.1 444.4,24.8 444.7,24.9 445,24.9 445.3,25.5 445.6,24.8 446,24.5 446.6,25.1 446.9,25.2 447.2,25 447.5,25.2 447.8,24.9 448.1,25.1 448.4,24.8 448.7,24.7 449,25.5 449.3,25 450,25.3 450.6,25.1 450.9,24.8 451.2,25.4 451.5,24.8 451.8,24.6 452.1,24.9 452.7,25 453.1,25.3 453.4,24.9 454,24.9 454.3,24.4 454.6,24.9 454.9,24.9 455.2,24.7 455.5,25.3 456.1,25.1 456.4,25.2 456.8,24.9 457.1,25.1 457.4,24.6 457.7,24.7 458.3,25.1 458.6,24.9 458.9,24.8 459.2,25.3 459.5,24.9 459.8,24.9 460.1,25 460.5,24.7 460.8,24.8 461.1,25.2 461.4,25 461.7,25.2 462,24.9 462.3,25.2 462.6,24.8 462.9,24.9 463.2,24.8 463.8,25.4 464.2,24.6 464.5,25.1 464.8,24.7 465.1,24.9 465.4,24.9 465.7,24.6 466,24.9 466.3,24.7 466.6,25.4 466.9,24.8 467.2,25.1 467.9,25 468.2,24.9 468.5,24.7 468.8,25.4 469.1,25 469.4,25.2 469.7,24.8 470,25.1 470.3,24.9 470.6,25.1 471.3,24.8 471.6,25.1 471.9,25 472.2,25.3 472.5,25 472.8,24.8 473.1,25.1 473.4,24.8 473.7,25.5 475,25 475.6,25 475.9,24.9 476.5,25.3 476.8,25.3 477.1,24.5 477.4,25.6 478,24.7 478.7,25.2 479.6,24.8 479.9,25.2 480.2,24.9 480.5,25 481.1,24.7 481.7,25.4 482.4,24.6 483,25 483.3,24.5 483.6,25.3 483.9,24.8 484.2,25.2 484.8,25 485.1,24.7 485.4,25.2 485.8,25.1 486.1,25.4 486.4,24.9 486.7,25.1 487,24.9 487.3,25.3 487.9,24.8 488.2,25.1 488.5,24.9 488.8,24.9 489.5,25.4 489.8,24.8 490.1,25 490.4,24.8 490.7,25.5 491,25.4 491.3,25.5 491.9,24.8 492.5,25 493.2,24.9 493.5,25.1 493.8,24.9 494.1,25 494.4,25.5 495,24.7 495.3,25.1 495.6,25.1 495.9,25.2 496.2,25.1 496.5,24.8 497.2,25.3 497.5,25.7 497.8,25.2 498.1,25.5 498.4,25.4 498.7,24.8 499,24.9 499.3,25.5 499.6,24.8 499.9,24.9 500.3,25.2 500.6,24.9 500.9,25.4 501.8,25.3 502.1,24.8 502.4,25.3 503,25.2 503.3,25 503.6,25.1 504,24.8 504.3,25.2 504.6,25.3 505.2,25 505.5,25.2 506.1,24.6 506.4,25.2 507,24.7 507.3,25.2 508,25.3 508.3,24.9 509.2,25 509.5,24.7 509.8,24.8 510.1,25.3 510.4,25 511,24.9 511.4,25.1 511.7,25.1 511.8,25.4 511.9,24.9 512,25.3 512,25.1 512.1,25.3 512.2,24.9 512.2,25.1 512.3,24.9 512.4,25.4 512.6,24.8 512.7,25 512.8,24.9 513,25.1 513.1,24.8 513.2,25.3 513.3,24.8 513.4,25.1 513.5,24.9 513.5,25.1 513.7,24.7 513.8,25.3 513.8,24.9 514,25.2 514.2,24.7 514.3,25.4 514.3,25.3 514.4,25.4 514.4,24.9 514.5,25.2 514.9,30.4 517.3,74.5 518.3,94.7 519.7,123.4 519.9,125.7 520,124.8 520,125.2 520.1,124.8 520.2,124.8 520.3,123.9 520.4,124.5 520.6,123.6 520.6,123.8 520.7,123.6 520.8,123.8 520.9,123.2 520.9,123.6 521.2,122.9 521.3,123 521.4,122.8 521.4,123.3 521.5,122.8 521.5,123.1 521.7,122.6 521.8,123.3 521.8,122.2 522.1,121.4 523.1,107 523.6,102.3 523.7,103 523.8,102.1 524,102.5 524,102.2 524.1,102.7 524.2,102.1 524.3,102.5 524.3,101.9 524.5,102.8 524.6,102.2 524.7,102.4 524.9,101.8 524.9,102.5 525,101.8 525.1,101.9 525.2,101.4 525.3,102.2 525.5,101.5 525.5,101.7 525.6,101.1 525.6,101.7 525.7,101.4 525.8,101.7 526,100.9 526.2,101.7 526.3,101.1 526.4,101.8 526.5,101 526.7,101.5 526.7,101 526.8,101.2 526.8,101.7 526.9,100.9 526.9,101.1 527,100.9 527.1,101.2 527.2,101 527.4,101.2 527.6,100.6 527.6,101.4 527.7,100.6 527.8,101.4 527.8,100.7 528,101.2 528,100.8 528.1,101.2 528.1,101 528.2,101.1 528.3,101 528.3,101.1 528.4,100.7 528.6,101.1 528.7,100.4 528.8,100.8 528.8,100.4 528.9,100.9 528.9,100.4 528.9,100.7 529,100.4 529.1,100.6 529.1,100.4 529.2,100.7 529.3,99.5 529.4,100.3 529.5,100.6 529.5,100.1 529.6,100.7 529.6,100.3 529.7,100.6 529.7,100 529.9,100.6 530.1,100.1 530.2,100.4 530.3,100.2 530.3,100.6 530.4,99.9 530.5,100.3 530.7,99.8 530.7,100.5 530.8,99.9 530.9,100.4 530.9,100 531,100.2 531,99.6 531.1,100.2 531.2,99.9 531.3,100.4 531.4,100.1 531.4,100.5 531.4,100.3 531.5,100.4 531.6,100.3 531.6,100.4 531.7,100 531.8,100.4 531.9,100 531.9,100.6 532.1,99.9 532.2,100.4 532.3,100 532.4,100.4 532.5,99.9 532.6,100.4 532.7,100 532.9,100.6 533,99.9 533,100.4 533.2,99.9 533.3,100.2 533.6,100 533.9,100.1 534.2,99.9 534.5,100 534.8,100.3 535.4,100.2 535.7,100.5 536,100.4 536.3,100 536.7,100.6 537,100 537.6,100.3 538.5,100 538.8,100.4 539.4,100.4 539.7,99.9 540.4,100.5 540.7,100.4 541,100.5 541.6,100.3 541.9,99.8 542.2,100.7 542.5,100.1 543.1,100.5 543.4,100.3 543.7,100.4 544.4,100.1 544.7,100.6 545,100 545.3,100.4 545.6,100 545.9,100.2 546.2,100 546.5,100.2 546.8,100.1 547.5,100.5 547.8,100.1 548.1,100.1 548.4,99.8 548.7,100.7 549.3,100.1 549.6,100.6 549.9,100.3 550.2,99.8 550.5,100 550.8,100.5 551.2,100 552.4,100.2 552.7,100.5 553,100.4 553.3,100.1 553.6,100.3 553.9,99.9 554.5,100.8 554.9,100.4 555.2,100.2 555.8,100.3 556.1,100.5 556.4,100 556.7,100.4 557,100.1 557.6,100.6 557.9,100 558.2,100.9 558.9,100.2 559.2,100.4 559.5,100.1 560.1,100.4 560.4,99.8 560.7,100.3 561,100.3 561.3,100.5 561.6,100.5 562,100.1 562.9,100.5 563.2,100.1 563.5,100.7 563.8,100.4 564.4,100.5 564.7,100.3 565.3,100.5 565.7,99.9 566,100.1 566.3,100 566.6,100.3 566.9,100.1 567.5,100 567.8,99.8 568.1,100.3 568.4,100.2 568.7,100.3 569,101.1 569.7,100.3 570,100.1 570.3,100.4 570.6,100 570.9,100 571.2,100.4 571.5,100 571.8,99.9 572.4,100.5 572.7,100 573.1,100.3 573.7,100.3 574,100.4 574.3,100 574.6,100.1 574.9,100 575.5,100.5 576.1,100.1 576.4,100.4 576.8,99.6 577.1,100.3 577.4,100.4 577.7,100 578.6,100.3 579.2,100.1 579.5,100.1 579.8,100.4 580.5,100.1 580.8,100.1 581.1,101 581.4,100.5 582.6,100.1 583.2,100.3 583.5,100.3 583.9,99.9 584.2,100.4 584.8,99.9 585.4,100.7 585.7,100.2 586,100.4 586.3,100.3 586.6,100.1 587.2,100.3 587.6,100.1 589.1,100.4 589.7,100.3 590.3,100.6 590.6,100 590.9,100.3 592.5,100.3 592.8,100.5 593.1,100.1 593.4,100.4 593.7,100.1 594,100.7 594.3,100.5 594.7,100.1 595.3,100.4 595.6,100.2 595.9,100.5 596.2,100.3 596.5,100.8 596.8,100.4 597.1,100.4 597.4,100.2 597.7,100.1 598,100.5 598.4,99.9 599,100.8 599.3,100.8 599.6,99.9 599.9,100.3 600.8,100.5 601.1,100 601.4,100.3 601.7,99.9 602.4,100.8 602.7,100.1 603,100.4 603.3,100.3 603.6,99.9 603.9,100.3 604.2,100 604.8,100.5 605.1,100.2 605.4,100.4 605.8,100 606.4,100.3 607,100.2 607.3,100.4 607.6,100.1 607.9,100.3 608.2,100.1 608.5,100.5 609.2,100.2 609.5,100.5 610.1,100.4 610.4,100.1 610.7,100.4 611.3,99.9 611.9,100.7 612.5,100.1 612.9,100.4 613.2,100 614.4,100.4 615.3,100.2 615.9,100.4 616.6,100.2 616.9,100.7 617.2,100.5 617.8,100.3 618.4,100.3 618.7,100.5 619,100.1 619.3,100.2 619.6,100.7 619.9,100.3 620.3,100.5 620.6,99.9 620.9,100.4 622.1,100.3 622.4,99.9 622.7,100.2 623.3,100 623.7,100.5 624,99.9 624.3,100.1 624.6,100.1 624.9,100.5 625.2,100.1 625.8,100.4 626.1,99.8 626.7,100.3 627.4,100.1 627.7,100 628,100.2 628.6,100 628.9,100.6 629.2,100.4 629.5,100.5 630.1,100 630.7,100.5 631.4,100.1 631.7,100.4 632.3,100.2 632.6,100.7 632.9,100.1 633.5,100.2 633.8,100.5 634.4,100.4 634.8,100.2 635.4,100.3 635.7,99.9 636,100 636.3,100.4 636.6,100.4 636.9,99.9 637.2,100.4 637.5,100 637.8,99.9 638.2,100.4 638.8,100.3 639.1,100.5 639.4,100.5 640,100.1 640.3,100.4 640.9,100.4 641.2,100.6 641.5,99.9 641.9,100.8 642.5,100.2 642.8,100.6 643.1,100.1 643.4,100 643.7,100.5 644,100.2 644.3,100.5 644.6,100.2 645.2,100.2 645.6,100 645.9,100.2 646.2,100 646.5,100.1 646.8,100.6 647.1,100.2 647.4,100.2 647.7,100.6 648,100 648.3,100.3 648.6,100.2 648.9,100.5 649.3,100.3 649.6,100.2 649.9,100.4 650.2,100.3 650.5,100.8 650.8,100 651.1,100.5 651.4,100.8 651.7,100.5 652,100.5 652.3,100.2 652.6,100.5 653,100.2 653.3,100.5 653.6,99.8 653.9,100.2 654.2,99.8 654.5,100.5 654.8,100.1 655.1,100.5 655.4,100.2 655.7,100.1 656,100.6 656.4,100.5 657,100.6 657.3,100.4 657.9,100.6 658.2,100.3 658.5,100.2 658.8,100.6 659.4,100.3 660.1,100.4 660.4,100.1 661,100.1 661.3,100.3 661.6,99.8 661.9,99.9 662.2,100.4 662.5,100.3 662.8,100 663.1,100.5 663.4,100.2 664.1,100.4 664.4,100.3 664.7,100.6 665,100.4 665.3,100.7 665.6,99.8 666.5,100.2 667.1,100 667.8,100.1 668.1,100.5 668.4,100.2 669,100.6" fill="none" stroke="#4cd64c" stroke-width="1.5" stroke-linejoin="round" clip-path="url(#c1)"/>
<path d="M52,316.6 57,316.6 57.2,236.8 57.9,222.7 58.6,216.1 60,211.8 61.8,209.2 67.4,209 206.2,209 206.9,207.1 211.8,139.6 213,136.5 215.5,135.8 237.1,135 360.5,135 361.4,132 366.1,26.9 367.3,25 375.9,24.6 514.5,24.6 519.7,114.5 520,116.6 521.3,113.3 521.5,113 521.8,113.4 522.1,112.8 522.5,110.7 523.7,100.7 524.1,99.3 524.5,99 669,99" fill="none" stroke="#c832ca" stroke-width="1.5" stroke-linejoin="round" clip-path="url(#c1)"/>
<path d="M52,316.6 57,316.6 57.2,236.8 57.9,222.7 58.6,216.1 60,211.8 61.8,208.8 67.4,208.6 206.2,208.6 206.9,206.8 211.8,139 213,136 215.5,135.2 237.1,134.5 360.5,134.5 361.4,131.5 366.1,26.7 367.3,24.8 375.9,24.5 514.5,24.5 519.7,105.7 519.8,106.8 520.1,107.4 520.4,107.3 521.3,104.7 521.7,104 521.9,103.7 522.3,104 522.5,103.9 523.8,102.1 525.7,99.2 526.2,99 669,98.9" fill="none" stroke="#3584ba" stroke-width="1.5" stroke-linejoin="round" clip-path="url(#c1)"/>
<rect x="52" y="10" width="617" height="321.3" fill="none" stroke="#555" stroke-width="1.8"/>
<line x1="52" y1="331.3" x2="52" y2="337.8" stroke="#555" stroke-width="1.4" />
<line x1="52" y1="10" x2="52" y2="3.5" stroke="#555" stroke-width="1.4" />
<text x="52" y="350.3" font-size="10.5" text-anchor="middle" font-weight="bold" fill="#111" stroke="#111" stroke-width="0.3" >0</text>
<line x1="113.7" y1="331.3" x2="113.7" y2="337.8" stroke="#555" stroke-width="1.4" />
<line x1="113.7" y1="10" x2="113.7" y2="3.5" stroke="#555" stroke-width="1.4" />
<text x="113.7" y="350.3" font-size="10.5" text-anchor="middle" font-weight="bold" fill="#111" stroke="#111" stroke-width="0.3" >0.2</text>
<line x1="175.4" y1="331.3" x2="175.4" y2="337.8" stroke="#555" stroke-width="1.4" />
<line x1="175.4" y1="10" x2="175.4" y2="3.5" stroke="#555" stroke-width="1.4" />
<text x="175.4" y="350.3" font-size="10.5" text-anchor="middle" font-weight="bold" fill="#111" stroke="#111" stroke-width="0.3" >0.4</text>
<line x1="237.1" y1="331.3" x2="237.1" y2="337.8" stroke="#555" stroke-width="1.4" />
<line x1="237.1" y1="10" x2="237.1" y2="3.5" stroke="#555" stroke-width="1.4" />
<text x="237.1" y="350.3" font-size="10.5" text-anchor="middle" font-weight="bold" fill="#111" stroke="#111" stroke-width="0.3" >0.6</text>
<line x1="298.8" y1="331.3" x2="298.8" y2="337.8" stroke="#555" stroke-width="1.4" />
<line x1="298.8" y1="10" x2="298.8" y2="3.5" stroke="#555" stroke-width="1.4" />
<text x="298.8" y="350.3" font-size="10.5" text-anchor="middle" font-weight="bold" fill="#111" stroke="#111" stroke-width="0.3" >0.8</text>
<line x1="360.5" y1="331.3" x2="360.5" y2="337.8" stroke="#555" stroke-width="1.4" />
<line x1="360.5" y1="10" x2="360.5" y2="3.5" stroke="#555" stroke-width="1.4" />
<text x="360.5" y="350.3" font-size="10.5" text-anchor="middle" font-weight="bold" fill="#111" stroke="#111" stroke-width="0.3" >1</text>
<line x1="422.2" y1="331.3" x2="422.2" y2="337.8" stroke="#555" stroke-width="1.4" />
<line x1="422.2" y1="10" x2="422.2" y2="3.5" stroke="#555" stroke-width="1.4" />
<text x="422.2" y="350.3" font-size="10.5" text-anchor="middle" font-weight="bold" fill="#111" stroke="#111" stroke-width="0.3" >1.2</text>
<line x1="483.9" y1="331.3" x2="483.9" y2="337.8" stroke="#555" stroke-width="1.4" />
<line x1="483.9" y1="10" x2="483.9" y2="3.5" stroke="#555" stroke-width="1.4" />
<text x="483.9" y="350.3" font-size="10.5" text-anchor="middle" font-weight="bold" fill="#111" stroke="#111" stroke-width="0.3" >1.4</text>
<line x1="545.6" y1="331.3" x2="545.6" y2="337.8" stroke="#555" stroke-width="1.4" />
<line x1="545.6" y1="10" x2="545.6" y2="3.5" stroke="#555" stroke-width="1.4" />
<text x="545.6" y="350.3" font-size="10.5" text-anchor="middle" font-weight="bold" fill="#111" stroke="#111" stroke-width="0.3" >1.6</text>
<line x1="607.3" y1="331.3" x2="607.3" y2="337.8" stroke="#555" stroke-width="1.4" />
<line x1="607.3" y1="10" x2="607.3" y2="3.5" stroke="#555" stroke-width="1.4" />
<text x="607.3" y="350.3" font-size="10.5" text-anchor="middle" font-weight="bold" fill="#111" stroke="#111" stroke-width="0.3" >1.8</text>
<line x1="669" y1="331.3" x2="669" y2="337.8" stroke="#555" stroke-width="1.4" />
<line x1="669" y1="10" x2="669" y2="3.5" stroke="#555" stroke-width="1.4" />
<text x="669" y="350.3" font-size="10.5" text-anchor="middle" font-weight="bold" fill="#111" stroke="#111" stroke-width="0.3" >2</text>
<line x1="45.5" y1="316.6" x2="52" y2="316.6" stroke="#555" stroke-width="1.4" />
<line x1="669" y1="316.6" x2="675.5" y2="316.6" stroke="#555" stroke-width="1.4" />
<text x="42.3" y="320.3" font-size="10.5" text-anchor="end" font-weight="bold" fill="#111" stroke="#111" stroke-width="0.3" >0</text>
<line x1="45.5" y1="279.05" x2="52" y2="279.05" stroke="#555" stroke-width="1.4" />
<line x1="669" y1="279.05" x2="675.5" y2="279.05" stroke="#555" stroke-width="1.4" />
<text x="42.3" y="282.75" font-size="10.5" text-anchor="end" font-weight="bold" fill="#111" stroke="#111" stroke-width="0.3" >100</text>
<line x1="45.5" y1="241.5" x2="52" y2="241.5" stroke="#555" stroke-width="1.4" />
<line x1="669" y1="241.5" x2="675.5" y2="241.5" stroke="#555" stroke-width="1.4" />
<text x="42.3" y="245.2" font-size="10.5" text-anchor="end" font-weight="bold" fill="#111" stroke="#111" stroke-width="0.3" >200</text>
<line x1="45.5" y1="203.95" x2="52" y2="203.95" stroke="#555" stroke-width="1.4" />
<line x1="669" y1="203.95" x2="675.5" y2="203.95" stroke="#555" stroke-width="1.4" />
<text x="42.3" y="207.65" font-size="10.5" text-anchor="end" font-weight="bold" fill="#111" stroke="#111" stroke-width="0.3" >300</text>
<line x1="45.5" y1="166.4" x2="52" y2="166.4" stroke="#555" stroke-width="1.4" />
<line x1="669" y1="166.4" x2="675.5" y2="166.4" stroke="#555" stroke-width="1.4" />
<text x="42.3" y="170.1" font-size="10.5" text-anchor="end" font-weight="bold" fill="#111" stroke="#111" stroke-width="0.3" >400</text>
<line x1="45.5" y1="128.85" x2="52" y2="128.85" stroke="#555" stroke-width="1.4" />
<line x1="669" y1="128.85" x2="675.5" y2="128.85" stroke="#555" stroke-width="1.4" />
<text x="42.3" y="132.55" font-size="10.5" text-anchor="end" font-weight="bold" fill="#111" stroke="#111" stroke-width="0.3" >500</text>
<line x1="45.5" y1="91.3" x2="52" y2="91.3" stroke="#555" stroke-width="1.4" />
<line x1="669" y1="91.3" x2="675.5" y2="91.3" stroke="#555" stroke-width="1.4" />
<text x="42.3" y="95" font-size="10.5" text-anchor="end" font-weight="bold" fill="#111" stroke="#111" stroke-width="0.3" >600</text>
<line x1="45.5" y1="53.75" x2="52" y2="53.75" stroke="#555" stroke-width="1.4" />
<line x1="669" y1="53.75" x2="675.5" y2="53.75" stroke="#555" stroke-width="1.4" />
<text x="42.3" y="57.45" font-size="10.5" text-anchor="end" font-weight="bold" fill="#111" stroke="#111" stroke-width="0.3" >700</text>
<line x1="45.5" y1="16.2" x2="52" y2="16.2" stroke="#555" stroke-width="1.4" />
<line x1="669" y1="16.2" x2="675.5" y2="16.2" stroke="#555" stroke-width="1.4" />
<text x="42.3" y="19.9" font-size="10.5" text-anchor="end" font-weight="bold" fill="#111" stroke="#111" stroke-width="0.3" >800</text>
<text x="360.9" y="363.5" font-size="11.5" text-anchor="middle" font-weight="bold" fill="#111" stroke="#111" stroke-width="0.3" >Time (seconds)</text>
<text x="0" y="0" font-size="11.5" text-anchor="middle" font-weight="bold" fill="#111" stroke="#111" stroke-width="0.3" transform="translate(13 168.9) rotate(-90) scale(1 0.9)" >Solar Power (W)</text>
<rect x="553.2" y="27" width="128.2" height="44.3" fill="#fff" stroke="#858585" stroke-width="1.2"/>
<line x1="554.7" y1="32.9" x2="571.5" y2="32.9" stroke="#c8463c" stroke-width="1.6" />
<text x="573" y="36.1" font-size="9.4" text-anchor="start" font-weight="bold" fill="#111" stroke="#111" stroke-width="0.3" >Classical PI</text>
<line x1="554.7" y1="43.5" x2="571.5" y2="43.5" stroke="#4cd64c" stroke-width="1.6" />
<text x="573" y="46.7" font-size="9.4" text-anchor="start" font-weight="bold" fill="#111" stroke="#111" stroke-width="0.3" >Fuzzy-PI based PSO</text>
<line x1="554.7" y1="54.5" x2="571.5" y2="54.5" stroke="#c832ca" stroke-width="1.6" />
<text x="573" y="57.7" font-size="9.4" text-anchor="start" font-weight="bold" fill="#111" stroke="#111" stroke-width="0.3" >Fuzzy-PI based TLBO</text>
<line x1="554.7" y1="65.4" x2="571.5" y2="65.4" stroke="#3584ba" stroke-width="1.6" />
<text x="573" y="68.6" font-size="9.4" text-anchor="start" font-weight="bold" fill="#111" stroke="#111" stroke-width="0.3" >Fuzzy-2DOF-PI based HO</text>
<rect x="384.4" y="160" width="236.7" height="143.8" fill="#fff" stroke="none"/>
<clipPath id="ci1"><rect x="384.4" y="160" width="236.7" height="143.8"/></clipPath>
<line x1="386.8" y1="160" x2="386.8" y2="303.8" stroke="#dddddd" stroke-width="1" />
<line x1="422.6" y1="160" x2="422.6" y2="303.8" stroke="#dddddd" stroke-width="1" />
<line x1="458.4" y1="160" x2="458.4" y2="303.8" stroke="#dddddd" stroke-width="1" />
<line x1="494.2" y1="160" x2="494.2" y2="303.8" stroke="#dddddd" stroke-width="1" />
<line x1="530" y1="160" x2="530" y2="303.8" stroke="#dddddd" stroke-width="1" />
<line x1="565.8" y1="160" x2="565.8" y2="303.8" stroke="#dddddd" stroke-width="1" />
<line x1="601.6" y1="160" x2="601.6" y2="303.8" stroke="#dddddd" stroke-width="1" />
<line x1="384.4" y1="294.83" x2="621.1" y2="294.83" stroke="#dddddd" stroke-width="1" />
<line x1="384.4" y1="278" x2="621.1" y2="278" stroke="#dddddd" stroke-width="1" />
<line x1="384.4" y1="261.17" x2="621.1" y2="261.17" stroke="#dddddd" stroke-width="1" />
<line x1="384.4" y1="244.34" x2="621.1" y2="244.34" stroke="#dddddd" stroke-width="1" />
<line x1="384.4" y1="227.52" x2="621.1" y2="227.52" stroke="#dddddd" stroke-width="1" />
<line x1="384.4" y1="210.69" x2="621.1" y2="210.69" stroke="#dddddd" stroke-width="1" />
<line x1="384.4" y1="193.86" x2="621.1" y2="193.86" stroke="#dddddd" stroke-width="1" />
<line x1="384.4" y1="177.03" x2="621.1" y2="177.03" stroke="#dddddd" stroke-width="1" />
<path d="M473.5,150 473.5,160.7 476.4,189.1 480.2,221.3 484,251.7 487.5,282 487.8,283.9 488.1,284.5 488.4,284.8 488.8,284.7 490.6,282.9 493,281 494.4,280.1 495.2,279.8 497.6,279.1 498.4,278.7 499.1,278.2 500.2,277.1 501.1,275.5 502,272.5 502.9,267.3 505.3,249.9 507.1,234 508.1,228.1 509,223.8 510,220.6 510.5,219.4 511.1,218.5 511.6,218 512.2,217.8 513.5,217.6 516,217.1 533.9,214.4 537,214.1 538.4,214.1 545,214.6 550.6,213.8 552,213.8 553.6,214 561.1,215.4 564.9,215.6 575,215.2 590,215.8 605,215.3 622,215.6" fill="none" stroke="#c8463c" stroke-width="1.3" stroke-linejoin="round" clip-path="url(#ci1)"/>
<path d="M473.5,150 474.1,160.7 477.3,189.1 484.9,246 487.3,265.5 487.7,267.8 488,269.2 488.3,269.8 488.6,269.8 489.2,269 490.1,268.4 493.4,265.9 494.7,265.4 497.2,264.6 497.7,264.5 498.7,264.5 499.2,264.4 499.6,263.9 500.1,263 500.6,261.5 501.5,257.2 507.7,224.9 508.1,222.9 509,220.2 509.5,219.5 509.9,219.1 510.3,218.8 512.1,218.4 515.3,218.6 516.2,218.5 517.1,218.3 520.8,216.9 523,216.4 534.4,215.6 538.2,215.1 543.3,214.3 549.3,213.9 563,213.6 596.6,214 622,214" fill="none" stroke="#4cd64c" stroke-width="1.3" stroke-linejoin="round" clip-path="url(#ci1)"/>
<path d="M473.5,150 474.5,160.7 478.3,183.4 481.5,203.9 487.4,246.4 488.1,249.8 488.5,250.6 488.9,250.7 489.3,250.4 490.6,248.8 495.3,244.1 496.6,242.9 497.2,242.6 497.7,242.5 499.6,243.3 500.1,243.1 500.6,242.7 501.5,241.4 502.4,239.5 503.4,237.1 508.1,220.8 510,215.6 511.4,212.8 512.3,211.9 513.1,211.5 515.3,211.2 520,211.3 622,211.2" fill="none" stroke="#c832ca" stroke-width="1.3" stroke-linejoin="round" clip-path="url(#ci1)"/>
<path d="M476,150 476,160.7 479.5,177.7 480.9,185.2 484,204.3 487.5,227.2 488.1,228.9 488.4,229.4 489.3,229.9 490.2,230 491,229.7 496,224.3 497.2,223.2 498.7,222.2 500.1,221.7 500.6,221.7 502.4,222.3 503.5,222.1 511.2,218.1 521.8,211.7 523.8,211.1 531.7,211 622,211" fill="none" stroke="#3584ba" stroke-width="1.3" stroke-linejoin="round" clip-path="url(#ci1)"/>
<rect x="384.4" y="160" width="236.7" height="143.8" fill="none" stroke="#3a3a3a" stroke-width="1.4"/>
<line x1="386.8" y1="303.8" x2="386.8" y2="306.6" stroke="#3a3a3a" stroke-width="1.2" />
<line x1="386.8" y1="160" x2="386.8" y2="157.2" stroke="#3a3a3a" stroke-width="1.2" />
<text x="386.8" y="316.7" font-size="7.6" text-anchor="middle" font-weight="normal" fill="#555" stroke="#555" stroke-width="0.12" >1.46</text>
<line x1="422.6" y1="303.8" x2="422.6" y2="306.6" stroke="#3a3a3a" stroke-width="1.2" />
<line x1="422.6" y1="160" x2="422.6" y2="157.2" stroke="#3a3a3a" stroke-width="1.2" />
<text x="422.6" y="316.7" font-size="7.6" text-anchor="middle" font-weight="normal" fill="#555" stroke="#555" stroke-width="0.12" >1.48</text>
<line x1="458.4" y1="303.8" x2="458.4" y2="306.6" stroke="#3a3a3a" stroke-width="1.2" />
<line x1="458.4" y1="160" x2="458.4" y2="157.2" stroke="#3a3a3a" stroke-width="1.2" />
<text x="458.4" y="316.7" font-size="7.6" text-anchor="middle" font-weight="normal" fill="#555" stroke="#555" stroke-width="0.12" >1.5</text>
<line x1="494.2" y1="303.8" x2="494.2" y2="306.6" stroke="#3a3a3a" stroke-width="1.2" />
<line x1="494.2" y1="160" x2="494.2" y2="157.2" stroke="#3a3a3a" stroke-width="1.2" />
<text x="494.2" y="316.7" font-size="7.6" text-anchor="middle" font-weight="normal" fill="#555" stroke="#555" stroke-width="0.12" >1.52</text>
<line x1="530" y1="303.8" x2="530" y2="306.6" stroke="#3a3a3a" stroke-width="1.2" />
<line x1="530" y1="160" x2="530" y2="157.2" stroke="#3a3a3a" stroke-width="1.2" />
<text x="530" y="316.7" font-size="7.6" text-anchor="middle" font-weight="normal" fill="#555" stroke="#555" stroke-width="0.12" >1.54</text>
<line x1="565.8" y1="303.8" x2="565.8" y2="306.6" stroke="#3a3a3a" stroke-width="1.2" />
<line x1="565.8" y1="160" x2="565.8" y2="157.2" stroke="#3a3a3a" stroke-width="1.2" />
<text x="565.8" y="316.7" font-size="7.6" text-anchor="middle" font-weight="normal" fill="#555" stroke="#555" stroke-width="0.12" >1.56</text>
<line x1="601.6" y1="303.8" x2="601.6" y2="306.6" stroke="#3a3a3a" stroke-width="1.2" />
<line x1="601.6" y1="160" x2="601.6" y2="157.2" stroke="#3a3a3a" stroke-width="1.2" />
<text x="601.6" y="316.7" font-size="7.6" text-anchor="middle" font-weight="normal" fill="#555" stroke="#555" stroke-width="0.12" >1.58</text>
<line x1="381.6" y1="294.83" x2="384.4" y2="294.83" stroke="#3a3a3a" stroke-width="1.2" />
<line x1="621.1" y1="294.83" x2="623.9" y2="294.83" stroke="#3a3a3a" stroke-width="1.2" />
<text x="379" y="297.53" font-size="7.6" text-anchor="end" font-weight="normal" fill="#555" stroke="#555" stroke-width="0.12" >480</text>
<line x1="381.6" y1="278" x2="384.4" y2="278" stroke="#3a3a3a" stroke-width="1.2" />
<line x1="621.1" y1="278" x2="623.9" y2="278" stroke="#3a3a3a" stroke-width="1.2" />
<text x="379" y="280.7" font-size="7.6" text-anchor="end" font-weight="normal" fill="#555" stroke="#555" stroke-width="0.12" >500</text>
<line x1="381.6" y1="261.17" x2="384.4" y2="261.17" stroke="#3a3a3a" stroke-width="1.2" />
<line x1="621.1" y1="261.17" x2="623.9" y2="261.17" stroke="#3a3a3a" stroke-width="1.2" />
<text x="379" y="263.87" font-size="7.6" text-anchor="end" font-weight="normal" fill="#555" stroke="#555" stroke-width="0.12" >520</text>
<line x1="381.6" y1="244.34" x2="384.4" y2="244.34" stroke="#3a3a3a" stroke-width="1.2" />
<line x1="621.1" y1="244.34" x2="623.9" y2="244.34" stroke="#3a3a3a" stroke-width="1.2" />
<text x="379" y="247.04" font-size="7.6" text-anchor="end" font-weight="normal" fill="#555" stroke="#555" stroke-width="0.12" >540</text>
<line x1="381.6" y1="227.52" x2="384.4" y2="227.52" stroke="#3a3a3a" stroke-width="1.2" />
<line x1="621.1" y1="227.52" x2="623.9" y2="227.52" stroke="#3a3a3a" stroke-width="1.2" />
<text x="379" y="230.22" font-size="7.6" text-anchor="end" font-weight="normal" fill="#555" stroke="#555" stroke-width="0.12" >560</text>
<line x1="381.6" y1="210.69" x2="384.4" y2="210.69" stroke="#3a3a3a" stroke-width="1.2" />
<line x1="621.1" y1="210.69" x2="623.9" y2="210.69" stroke="#3a3a3a" stroke-width="1.2" />
<text x="379" y="213.39" font-size="7.6" text-anchor="end" font-weight="normal" fill="#555" stroke="#555" stroke-width="0.12" >580</text>
<line x1="381.6" y1="193.86" x2="384.4" y2="193.86" stroke="#3a3a3a" stroke-width="1.2" />
<line x1="621.1" y1="193.86" x2="623.9" y2="193.86" stroke="#3a3a3a" stroke-width="1.2" />
<text x="379" y="196.56" font-size="7.6" text-anchor="end" font-weight="normal" fill="#555" stroke="#555" stroke-width="0.12" >600</text>
<line x1="381.6" y1="177.03" x2="384.4" y2="177.03" stroke="#3a3a3a" stroke-width="1.2" />
<line x1="621.1" y1="177.03" x2="623.9" y2="177.03" stroke="#3a3a3a" stroke-width="1.2" />
<text x="379" y="179.73" font-size="7.6" text-anchor="end" font-weight="normal" fill="#555" stroke="#555" stroke-width="0.12" >620</text>
<line x1="510.3" y1="114" x2="480.14" y2="147.68" stroke="#000" stroke-width="1.7" />
<path d="M476.8,151.4 L479.24,145.53 L482.37,148.33 Z" fill="#000"/>
<line x1="113.7" y1="404.2" x2="113.7" y2="725.6" stroke="#dddddd" stroke-width="1" />
<line x1="175.4" y1="404.2" x2="175.4" y2="725.6" stroke="#dddddd" stroke-width="1" />
<line x1="237.1" y1="404.2" x2="237.1" y2="725.6" stroke="#dddddd" stroke-width="1" />
<line x1="298.8" y1="404.2" x2="298.8" y2="725.6" stroke="#dddddd" stroke-width="1" />
<line x1="360.5" y1="404.2" x2="360.5" y2="725.6" stroke="#dddddd" stroke-width="1" />
<line x1="422.2" y1="404.2" x2="422.2" y2="725.6" stroke="#dddddd" stroke-width="1" />
<line x1="483.9" y1="404.2" x2="483.9" y2="725.6" stroke="#dddddd" stroke-width="1" />
<line x1="545.6" y1="404.2" x2="545.6" y2="725.6" stroke="#dddddd" stroke-width="1" />
<line x1="607.3" y1="404.2" x2="607.3" y2="725.6" stroke="#dddddd" stroke-width="1" />
<line x1="52" y1="707.2" x2="669.2" y2="707.2" stroke="#dddddd" stroke-width="1" />
<line x1="52" y1="673.53" x2="669.2" y2="673.53" stroke="#dddddd" stroke-width="1" />
<line x1="52" y1="639.86" x2="669.2" y2="639.86" stroke="#dddddd" stroke-width="1" />
<line x1="52" y1="606.19" x2="669.2" y2="606.19" stroke="#dddddd" stroke-width="1" />
<line x1="52" y1="572.52" x2="669.2" y2="572.52" stroke="#dddddd" stroke-width="1" />
<line x1="52" y1="538.85" x2="669.2" y2="538.85" stroke="#dddddd" stroke-width="1" />
<line x1="52" y1="505.18" x2="669.2" y2="505.18" stroke="#dddddd" stroke-width="1" />
<line x1="52" y1="471.51" x2="669.2" y2="471.51" stroke="#dddddd" stroke-width="1" />
<line x1="52" y1="437.84" x2="669.2" y2="437.84" stroke="#dddddd" stroke-width="1" />
<clipPath id="c2"><rect x="52" y="404.2" width="617.2" height="321.40000000000003"/></clipPath>
<path d="M52,707.2 57.1,707.2 57.1,524.5 58.1,504.7 58.7,495.1 59.4,487.5 59.7,485.8 59.9,485.3 60,485.2 60.4,485.3 60.7,485.8 61.4,488.9 62.2,493.6 63.3,497.4 63.8,497.9 64,498.5 64.6,501.4 64.7,501.3 64.8,501.5 64.8,501.3 64.8,501.4 64.9,501.2 64.9,501.4 65,501.1 65.1,501.3 65.1,501 65.3,501.5 65.4,501.4 65.7,503 65.8,502.8 65.9,503.3 65.9,503.1 66,503.5 66.1,503.2 66.1,503.8 66.2,503.3 66.4,504 66.5,503.6 66.5,504.2 66.6,503.8 66.7,504.3 66.7,503.8 66.8,504.4 66.9,504 66.9,504.5 67,504 67,504.5 67.1,504.1 67.2,504.7 67.2,504.3 67.2,504.8 67.3,504.4 67.4,505.1 67.4,504.7 67.5,505.2 67.5,504.8 67.6,505.4 67.7,505.1 67.7,505.7 67.8,505.1 67.8,505.8 67.9,505.2 68,505.9 68,505.1 68,505.7 68.1,505.2 68.2,505.8 68.2,505.1 68.3,505.8 68.3,505.2 68.4,505.8 68.5,505.2 68.5,505.8 68.6,505.1 68.7,506 68.7,505.3 68.8,506.3 68.8,505.3 68.8,506.1 68.9,505.7 69,506.3 69,505.8 69.1,506.7 69.1,505.8 69.2,506.5 69.3,506 69.3,506.7 69.4,505.7 69.5,506.4 69.5,505.7 69.6,506.4 69.7,505.5 69.8,506.5 69.8,505.6 69.9,506.4 70,505.7 70,506.5 70.1,505.5 70.1,506.6 70.2,505.6 70.3,506.3 70.3,505.5 70.4,506.3 70.4,505.4 70.4,506.4 70.5,505.5 71.2,506.2 72,505.1 72.8,505.8 73.6,504.9 74.4,505.7 75.2,504.9 76,505.8 76.8,504.8 77.6,505.6 78.4,504.7 79.2,505.8 80,504.8 80.8,505.6 81.6,504.7 82.4,505.5 83.2,504.8 84,505.8 84.8,504.5 85.6,505.6 86.4,504.5 87.2,505.5 88,504.6 88.8,505.5 89.6,504.7 90.4,505.6 91.2,504.7 92,505.8 92.8,504.8 93.6,505.5 94.4,504.9 95.2,505.8 96,504.9 96.8,505.5 97.6,504.8 98.4,505.8 99.2,504.7 100,505.5 100.8,504.6 101.6,505.6 102.4,504.7 103.2,505.9 104,504.6 104.8,505.7 105.6,504.5 106.4,505.7 107.2,504.7 108,505.8 108.8,504.5 109.6,505.7 110.4,504.8 111.2,505.6 112,504.9 112.8,505.5 113.6,504.6 114.4,505.6 115.2,504.6 116,505.7 116.8,504.7 117.6,505.8 118.4,504.7 119.2,505.7 120,504.7 120.8,505.6 121.6,504.6 122.4,505.5 123.2,504.5 124,505.8 124.8,504.6 125.6,505.6 126.4,504.7 127.2,505.6 128,504.7 128.8,505.5 129.6,504.6 130.4,505.8 131.2,504.7 132,505.8 132.8,504.8 133.6,505.8 134.4,504.5 135.2,505.7 136,504.5 136.8,505.7 137.6,504.6 138.4,505.6 139.2,504.9 140,505.5 140.8,504.6 141.6,505.5 142.4,504.6 143.2,505.5 144,504.6 144.8,505.8 145.6,504.7 146.4,505.5 147.2,504.6 148,505.6 148.8,504.6 149.6,505.5 150.4,504.8 151.2,505.8 152,504.6 152.8,505.8 153.6,504.7 154.4,505.7 155.2,504.5 156,505.7 156.8,504.9 157.6,505.5 158.4,504.9 159.2,505.5 160,504.9 160.8,505.6 161.6,504.7 162.4,505.8 163.2,504.7 164,505.5 164.8,504.5 165.6,505.8 166.4,504.5 167.2,505.5 168,504.7 168.8,505.7 169.6,504.7 170.4,505.5 171.2,504.5 172,505.7 172.8,504.9 173.6,505.6 174.4,504.6 175.2,505.5 176,504.6 176.8,505.5 177.6,504.7 178.4,505.6 179.2,504.9 180,505.8 180.8,504.8 181.6,505.8 182.4,504.6 183.2,505.6 184,504.9 184.8,505.7 185.6,504.8 186.4,505.8 187.2,504.8 188,505.7 188.8,504.9 189.6,505.6 190.4,504.8 191.2,505.8 192,504.7 192.8,505.7 193.6,504.9 194.4,505.6 195.2,504.6 196,505.7 196.8,504.6 197.6,505.7 198.4,504.8 199.2,505.8 200,504.8 200.8,505.5 201.6,504.6 202.4,505.5 203.2,504.6 203.2,505.7 203.4,504.8 203.7,505.7 203.9,504.7 204,505.5 204.2,504.9 204.5,505.6 204.7,504.9 204.8,505.5 205,504.8 205.3,505.7 205.5,504.7 205.6,505.5 205.8,504.6 206,505.8 206.3,505.4 206.6,507.1 210,552.2 210.7,558.2 211.8,563 213.9,569.7 214.9,571.9 216,573.2 216.2,573.4 217,573.6 217.3,573.3 217.5,573.9 217.6,573.4 217.8,574.1 218.1,573.2 218.3,573.8 218.4,573 218.6,573.8 219.2,573 220,573.6 220.8,572.8 221.6,573.2 222.4,572.3 223.2,572.9 224,572 224.8,572.8 225.6,572.2 226.4,572.8 227.2,572.3 228,572.7 228.8,572.3 229.6,572.8 230.4,572.2 231.2,572.8 232,572.1 232.8,573 233.6,572.2 234.4,572.9 235.2,572.2 236,572.8 236.8,572.2 237.6,572.9 238.4,572 239.2,573 240,572.3 240.8,572.9 241.6,572.3 242.4,572.9 243.2,572.1 244,572.9 244.8,572.3 245.6,572.9 246.4,572.3 247.2,572.9 248,572.1 248.8,572.9 249.6,572.2 250.4,572.9 251.2,572.3 252,573 252.8,572 253.6,572.7 254.4,572.1 255.2,572.9 256,572.2 256.8,572.7 257.6,572.3 258.4,572.9 259.2,572.3 260,572.8 260.8,572.1 261.6,572.7 262.4,572.1 263.2,572.9 264,572.2 264.8,572.9 265.6,572.2 266.4,573 267.2,572.1 268,572.8 268.8,572.3 269.6,572.9 270.4,572 271.2,573 272,572.3 272.8,572.8 273.6,572.2 274.4,572.8 275.2,572.3 276,572.8 276.8,572.2 277.6,572.9 278.4,572.1 279.2,572.9 280,572.1 280.8,572.7 281.6,572.3 282.4,572.8 283.2,572.2 284,572.8 284.8,572.2 285.6,572.8 286.4,572.3 287.2,573 288,572 288.8,572.9 289.6,572.2 290.4,572.9 291.2,572 292,572.9 292.8,572.1 293.6,572.9 294.4,572 295.2,572.9 296,572.3 296.8,572.9 297.6,572 298.4,572.8 299.2,572.3 300,572.7 300.8,572.3 301.6,572.8 302.4,572.1 303.2,572.9 304,572.1 304.8,572.9 305.6,572.2 306.4,573 307.2,572.3 308,572.8 308.8,572.2 309.6,572.9 310.4,572.1 311.2,572.9 312,572.1 312.8,572.8 313.6,572.1 314.4,573 315.2,572.2 316,572.9 316.8,572.2 317.6,572.9 318.4,572.1 319.2,572.8 320,572.3 320.8,572.8 321.6,572.2 322.4,572.9 323.2,572.1 324,572.8 324.8,572.2 325.6,572.8 326.4,572.1 327.2,572.8 328,572.2 328.8,572.8 329.6,572 330.4,572.9 331.2,572 332,572.8 332.8,572.3 333.6,572.9 334.4,572 335.2,572.8 336,572.1 336.8,572.9 337.6,572 338.4,573 339.2,572.2 340,573 340.8,572.3 341.6,572.9 342.4,572.2 343.2,572.8 344,572.2 344.8,573 345.6,572.3 346.4,572.9 347.2,572.2 348,572.8 348.8,572.1 349.6,572.8 350.4,572.1 351.2,572.9 352,572.1 352.8,573 353.6,572 354.4,572.9 355.2,572.2 356,572.8 356.8,572.1 357.4,573 357.6,572.1 357.7,573 357.9,572.1 358.2,573 358.4,572.1 358.5,572.9 358.7,572.1 359,572.9 359.2,572.1 359.2,573 359.5,572.2 359.8,572.9 360,572.2 360,572.9 360.3,572.1 360.6,572.4 360.8,572.1 361.1,570.3 365.8,505.1 366,502.8 366.6,500.7 367.3,503.9 369.7,505.2 370,505.7 371.3,505.7 371.5,506.2 371.8,505.1 372,506.5 372.1,504.9 372.3,506.1 372.6,505.2 372.8,506.3 372.8,505 373.6,506 374.4,504.9 375.2,506.4 376,504.9 376.8,506.1 377.6,505.2 378.4,506.4 379.2,505.1 380,506.1 380.8,505.3 381.6,506.1 382.4,505 383.2,506.4 384,505.2 384.8,506.5 385.6,505.1 386.4,506.3 387.2,505.1 388,506.2 388.8,505.2 389.6,506.4 390.4,505.1 391.2,506.1 392,505.1 392.8,506.5 393.6,505 394.4,506.1 395.2,505.1 396,506.3 396.8,505.3 397.6,506.5 398.4,504.9 399.2,506.1 400,505.1 400.8,506.2 401.6,505.2 402.4,506.2 403.2,505.3 404,506.4 404.8,505.2 405.6,506.4 406.4,504.9 407.2,506.3 408,505.2 408.8,506.1 409.6,505 410.4,506.4 411.2,505 412,506.1 412.8,505.3 413.6,506.5 414.4,505 415.2,506.1 416,505 416.8,506.1 417.6,505 418.4,506.3 419.2,505 420,506.1 420.8,504.9 421.6,506.5 422.4,504.9 423.2,506.4 424,505.2 424.8,506.5 425.6,505 426.4,506.4 427.2,505 428,506.1 428.8,504.9 429.6,506.3 430.4,505.2 431.2,506.2 432,505.3 432.8,506.2 433.6,504.8 434.4,506.2 435.2,505.1 436,506.4 436.8,505.3 437.6,506.1 438.4,505 439.2,506.1 440,505 440.8,506.4 441.6,505.1 442.4,506.1 443.2,505.2 444,506.3 444.8,504.9 445.6,506.4 446.4,505 447.2,506.3 448,505.2 448.8,506.3 449.6,505.3 450.4,506.2 451.2,504.9 452,506.1 452.8,505 453.6,506.4 454.4,505.3 455.2,506.5 456,505.2 456.8,506.5 457.6,505.2 458.4,506.3 459.2,504.9 460,506.4 460.8,505.1 461.6,506.1 462.4,505 463.2,506.3 464,505.3 464.8,506.2 465.6,504.9 466.4,506.3 467.2,505.3 468,506.3 468.8,505.1 469.6,506.5 470.4,505.1 471.2,506 472,505.3 472.8,506.1 473.6,504.9 474.4,506.2 475.2,505.2 476,506.5 476.8,505.2 477.6,506.3 478.4,504.9 479.2,506.5 480,505.3 480.8,506.3 481.6,505.2 482.4,506.4 483.2,505.2 484,506.1 484.8,505.2 485.6,506.1 486.4,505 487.2,506.2 488,505.1 488.8,506.2 489.6,505.2 490.4,506.2 491.2,505.2 492,506.4 492.8,505.3 493.6,506.4 494.4,505.2 495.2,506.1 496,505.3 496.8,506.5 497.6,505.3 498.4,506.2 499.2,504.9 500,506.1 500.8,505.2 501.6,506.2 502.4,504.9 503.2,506.1 504,504.9 504.8,506.1 505.6,505.1 506.4,506.4 507.2,505.1 508,506.3 508.8,505.1 509.6,506.1 510.4,504.8 511.2,506.2 511.7,505 511.8,506.3 511.9,504.9 512.1,506.5 512.2,505.1 512.3,506.3 512.5,505 512.6,506.4 512.7,504.9 512.8,506.4 512.8,505.3 512.9,506.4 513,505.3 513.1,506.5 513.3,505.3 513.4,506.4 513.5,505 513.6,506 513.6,505 513.7,506.3 513.8,505.3 513.9,506.5 514,505 514.2,506.3 514.3,504.9 514.4,506.1 514.4,505.3 514.5,506.5 514.6,505.3 514.7,506.4 514.8,505.2 515.6,505.2 515.8,504.5 520.5,460 521.9,435.1 522.4,428.4 522.7,426.7 522.9,426 523,425.9 523.6,425.9 524.5,424.5 524.7,424.9 525.2,426.2 525.3,426.3 525.6,425.9 525.9,426.2 526.6,430.3 527.3,430.5 527.8,432.2 528.6,433.3 529.3,435.1 529.5,435.3 530.3,435.7 530.8,437.8 531,437.9 531.1,437.7 531.5,435.6 531.6,435.6 532,437.6 532.5,436.1 532.9,435.8 533.5,437.9 534.1,435.8 534.4,436.1 534.6,436.6 535.2,438.6 535.7,436.2 536,436.8 536.3,438.7 536.4,438.7 536.8,436.6 537,436.2 537.5,438.8 538.1,436.2 538.7,438.9 538.9,438.3 539.2,436.4 539.4,436.3 539.8,438.6 539.9,438.7 540.5,436.2 541.1,439 541.6,436.6 541.7,436.4 542.5,438.6 542.6,437.5 542.8,438.6 542.9,437.4 543,438.9 543.1,437.4 543.3,438.9 543.4,437.6 543.6,438.8 543.7,437.3 543.8,438.9 543.9,437.5 544,438.9 544,437.5 544.1,438.9 544.2,437.4 544.4,438.5 544.5,437.3 544.6,438.5 544.7,437.2 544.8,438.4 544.8,437.4 544.9,438.5 545,437.5 545.1,438.6 545.3,437.3 545.4,438.6 545.5,437.4 545.6,438.9 546.4,437.7 547.2,438.8 548,437.7 548.8,438.8 549.6,437.3 550.4,438.5 551.2,437.3 552,438.6 552.8,437.6 553.6,438.9 554.4,437.5 555.2,438.5 556,437.6 556.8,438.8 557.6,437.2 558.4,438.6 559.2,437.5 560,438.7 560.8,437.3 561.6,438.4 562.4,437.3 563.2,438.9 564,437.5 564.8,438.6 565.6,437.2 566.4,438.6 567.2,437.5 568,438.8 568.8,437.5 569.6,438.7 570.4,437.5 571.2,438.7 572,437.5 572.8,438.8 573.6,437.4 574.4,438.8 575.2,437.4 576,438.8 576.8,437.5 577.6,438.7 578.4,437.5 579.2,438.6 580,437.3 580.8,438.4 581.6,437.4 582.4,438.8 583.2,437.6 584,438.6 584.8,437.2 585.6,438.6 586.4,437.6 587.2,438.6 588,437.4 588.8,438.8 589.6,437.3 590.4,438.7 591.2,437.5 592,438.8 592.8,437.2 593.6,438.4 594.4,437.3 595.2,438.8 596,437.3 596.8,438.8 597.6,437.5 598.4,438.6 599.2,437.4 600,438.5 600.8,437.2 601.6,438.5 602.4,437.3 603.2,438.7 604,437.3 604.8,438.3 605.6,437.6 606.4,438.7 607.2,437.3 608,438.4 608.8,437.6 609.6,438.5 610.4,437.5 611.2,438.8 612,437.5 612.8,438.8 613.6,437.2 614.4,438.6 615.2,437.3 616,438.6 616.8,437.5 617.6,438.5 618.4,437.6 619.2,438.3 620,437.1 620.8,438.7 621.6,437.2 622.4,438.3 623.2,437.3 624,438.6 624.8,437.4 625.6,438.5 626.4,437.2 627.2,438.3 628,437.3 628.8,438.4 629.6,437.4 630.4,438.5 631.2,437.4 632,438.7 632.8,437.1 633.6,438.6 634.4,437.2 635.2,438.5 636,437.4 636.8,438.7 637.6,437.5 638.4,438.5 639.2,437.2 640,438.3 640.8,437.5 641.6,438.6 642.4,437.1 643.2,438.4 644,437.3 644.8,438.6 645.6,437.3 646.4,438.5 647.2,437.2 648,438.6 648.8,437.1 649.6,438.5 650.4,437.2 651.2,438.3 652,437.5 652.8,438.6 653.6,437.4 654.4,438.4 655.2,437.1 656,438.3 656.8,437.2 657.6,438.3 658.4,437.2 659.2,438.6 660,437.1 660.8,438.6 661.6,437.3 662.4,438.5 663.2,437.4 664,438.2 664.8,437.1 665.6,438.2 666.4,437 667.2,438.3 668,437.1 668.8,438.4" fill="none" stroke="#c8463c" stroke-width="1.4" stroke-linejoin="round" clip-path="url(#c2)"/>
<path d="M52,707.2 57.1,707.2 57.1,498.5 57.6,486.2 58,481.3 58.3,480.2 58.6,481 58.7,483.5 59.4,504.7 59.7,507.1 59.9,507.7 60,507.8 60.2,507.7 60.4,507.4 61,505.3 61.2,505.3 61.4,505.5 61.7,506.4 62,506.6 62.4,506.2 63.3,504.7 63.5,504.7 63.5,504.6 63.8,505.2 63.9,505.1 63.9,505.4 64,505.2 64.1,505.5 64.2,505.3 64.3,505.6 64.3,505.3 64.4,505.6 64.4,505.2 64.5,505.5 64.6,505.1 64.6,505.4 64.7,504.9 64.8,505.4 64.8,504.9 64.8,505.2 64.9,504.8 64.9,505 65,504.5 65.1,504.9 65.1,504.5 65.2,504.8 65.2,504.3 65.3,504.7 65.4,504.2 65.4,504.8 65.5,504.1 65.6,504.7 65.7,504 65.7,504.6 65.8,504.1 65.9,504.6 65.9,503.9 66,504.7 66.1,504 66.1,504.6 66.2,504 66.2,504.7 66.3,504.1 66.4,504.8 66.4,504 66.4,504.7 66.5,504.3 66.5,504.8 66.6,504.3 66.7,505 66.7,504.4 66.8,504.9 66.9,504.3 66.9,505 67,504.3 67,505.2 67.1,504.6 67.2,505.4 67.2,504.4 67.2,505.4 67.3,504.8 67.4,505.5 67.4,504.7 67.5,505.9 67.5,505 67.6,505.6 67.7,505 67.7,505.8 67.8,504.9 67.8,506 67.9,504.9 68,506.1 68.1,505.1 68.2,505.7 68.2,505.1 68.3,506 68.3,504.8 68.4,505.9 68.5,504.7 68.5,505.9 68.6,504.7 68.7,505.7 68.7,504.8 68.8,505.7 68.8,504.7 68.8,505.9 68.9,504.4 69,505.5 69,504.5 69.1,505.6 69.1,504.4 69.2,505.8 69.3,504.5 69.3,505.7 69.4,504.4 69.5,505.9 69.5,504.5 69.6,505.7 69.7,504.1 69.8,505.8 69.8,504.6 69.9,506 70,504.4 70,505.7 70.1,504.1 70.1,505.8 70.2,504.5 70.3,505.7 70.3,504.2 70.4,505.7 70.4,504.6 70.4,505.7 70.5,504.6 71.2,505.7 72,504.8 72.8,506 73.6,504.7 74.4,505.9 75.2,504.5 76,506.1 76.8,504.4 77.6,505.8 78.4,504.6 79.2,505.9 80,504.6 80.8,506 81.6,504.6 82.4,506.1 83.2,504.4 84,506.1 84.8,504.7 85.6,506.2 86.4,504.8 87.2,506.2 88,504.6 88.8,505.9 89.6,504.5 90.4,505.8 91.2,504.9 92,505.9 92.8,504.6 93.6,506.1 94.4,504.8 95.2,506.1 96,504.4 96.8,506.4 97.6,504.5 98.4,505.9 99.2,504.7 100,506.2 100.8,504.4 101.6,506.3 102.4,504.7 103.2,506 104,504.7 104.8,506.2 105.6,504.4 106.4,506.1 107.2,504.7 108,506.2 108.8,504.7 109.6,506.1 110.4,504.8 111.2,505.8 112,504.7 112.8,505.9 113.6,504.9 114.4,506.3 115.2,504.5 116,506 116.8,504.3 117.6,505.8 118.4,504.7 119.2,506.3 120,504.4 120.8,506.2 121.6,504.8 122.4,506.1 123.2,504.9 124,505.8 124.8,504.4 125.6,505.8 126.4,504.9 127.2,505.8 128,504.5 128.8,506.1 129.6,504.8 130.4,506 131.2,504.4 132,505.9 132.8,504.9 133.6,506.1 134.4,504.9 135.2,506.1 136,504.8 136.8,505.8 137.6,504.5 138.4,506.2 139.2,504.8 140,505.8 140.8,504.4 141.6,505.9 142.4,504.8 143.2,506 144,504.8 144.8,505.9 145.6,504.4 146.4,505.8 147.2,504.4 148,506.1 148.8,504.9 149.6,505.8 150.4,504.5 151.2,506.1 152,504.8 152.8,505.9 153.6,504.4 154.4,506.2 155.2,504.5 156,506.3 156.8,504.8 157.6,506 158.4,504.4 159.2,506 160,504.7 160.8,506.2 161.6,504.3 162.4,506.3 163.2,504.5 164,506 164.8,504.5 165.6,505.9 166.4,504.8 167.2,505.9 168,504.5 168.8,506.3 169.6,504.5 170.4,505.9 171.2,504.5 172,506 172.8,504.4 173.6,506 174.4,504.8 175.2,505.9 176,504.9 176.8,506 177.6,504.7 178.4,506 179.2,504.5 180,506.3 180.8,504.4 181.6,506.1 182.4,504.7 183.2,505.9 184,504.6 184.8,505.8 185.6,504.9 186.4,506.1 187.2,504.8 188,506.3 188.8,504.5 189.6,506.1 190.4,504.4 191.2,505.8 192,504.8 192.8,506.1 193.6,504.4 194.4,505.8 195.2,504.6 196,506.3 196.8,504.9 197.6,506.2 198.4,504.5 199.2,506 200,504.6 200.8,506.3 201.6,504.7 202.4,506 203.2,504.6 203.2,505.8 203.4,504.5 203.7,505.8 203.9,504.4 204,506.3 204.2,504.4 204.5,506.3 204.7,504.6 204.8,505.9 205,504.6 205.3,506.2 205.5,504.9 205.6,506.2 205.8,504.8 206,506.1 206.3,505.4 206.6,507.1 211.3,569.7 211.5,572.2 211.8,572.8 213.1,572.5 217,572.5 217.3,571.9 217.5,573.1 217.6,572.1 217.8,573.1 218.1,572.2 218.3,572.9 218.4,571.9 218.6,573 219.2,572 220,573 220.8,571.9 221.6,572.9 222.4,572 223.2,573 224,572.2 224.8,572.8 225.6,572 226.4,572.9 227.2,572 228,573 228.8,572.1 229.6,573.1 230.4,572.2 231.2,573 232,572.1 232.8,572.9 233.6,572.1 234.4,573.1 235.2,572.2 236,573.1 236.8,572.1 237.6,573 238.4,572 239.2,572.8 240,571.9 240.8,572.9 241.6,572.2 242.4,572.9 243.2,571.9 244,573.2 244.8,572.1 245.6,572.9 246.4,572 247.2,572.8 248,571.9 248.8,572.8 249.6,572.2 250.4,572.9 251.2,572.1 252,572.8 252.8,572.1 253.6,573.2 254.4,571.9 255.2,572.8 256,571.9 256.8,573 257.6,571.9 258.4,572.9 259.2,572.1 260,573.1 260.8,572.1 261.6,572.9 262.4,572 263.2,573 264,572.1 264.8,573.1 265.6,571.9 266.4,573.1 267.2,572 268,572.9 268.8,572 269.6,572.9 270.4,572.2 271.2,573 272,572.2 272.8,572.8 273.6,572 274.4,573.2 275.2,572.2 276,573 276.8,572.2 277.6,573 278.4,572 279.2,573 280,572.2 280.8,573.1 281.6,572 282.4,573 283.2,572 284,573.2 284.8,572.1 285.6,573.2 286.4,572.2 287.2,573 288,572.2 288.8,572.9 289.6,571.9 290.4,573.2 291.2,572.1 292,572.9 292.8,572.1 293.6,573.2 294.4,572.1 295.2,572.9 296,571.9 296.8,573 297.6,572.1 298.4,573.2 299.2,571.9 300,572.8 300.8,571.9 301.6,573 302.4,572.2 303.2,573.2 304,572.1 304.8,573.1 305.6,571.9 306.4,572.9 307.2,571.9 308,573 308.8,572.2 309.6,573 310.4,572.2 311.2,573.2 312,572 312.8,572.9 313.6,571.9 314.4,573.1 315.2,572 316,572.9 316.8,572.2 317.6,573.1 318.4,571.9 319.2,572.9 320,572.1 320.8,573 321.6,572.1 322.4,573.2 323.2,572 324,573.1 324.8,572 325.6,572.8 326.4,572.2 327.2,572.8 328,572 328.8,573 329.6,571.8 330.4,573.2 331.2,572 332,572.9 332.8,572.1 333.6,573.1 334.4,572.1 335.2,573.1 336,572 336.8,572.8 337.6,571.9 338.4,572.8 339.2,572.1 340,573.2 340.8,572 341.6,573.1 342.4,571.9 343.2,572.9 344,571.9 344.8,572.9 345.6,572.2 346.4,572.8 347.2,572.2 348,573 348.8,572 349.6,573.1 350.4,572.1 351.2,573.1 352,572.1 352.8,572.9 353.6,572 354.4,572.9 355.2,571.8 356,572.9 356.8,572.2 357.4,573.1 357.6,571.9 357.7,572.9 357.9,572.1 358.2,573 358.4,572.2 358.5,572.9 358.7,571.9 359,573.1 359.2,572.2 359.2,572.9 359.5,572.1 359.8,573.1 360,572.2 360,573.2 360.3,572.2 360.6,572.4 360.8,572.1 361.1,570.3 365.8,505.1 366,502.8 366.6,500.7 367.3,503.9 369.7,505.2 370,505.7 371.3,505.7 371.5,506.2 371.8,504.7 372,506.2 372.1,505.2 372.3,506.5 372.6,505.2 372.8,506.3 372.8,505 373.6,506.3 374.4,504.9 375.2,506.2 376,504.9 376.8,506.2 377.6,504.9 378.4,506.7 379.2,504.8 380,506.7 380.8,505 381.6,506.2 382.4,505.1 383.2,506.6 384,505.2 384.8,506.5 385.6,505.1 386.4,506.6 387.2,505.1 388,506.3 388.8,505.1 389.6,506.4 390.4,504.7 391.2,506.4 392,504.8 392.8,506.4 393.6,505.2 394.4,506.4 395.2,504.9 396,506.5 396.8,505.1 397.6,506.3 398.4,505.1 399.2,506.1 400,505.2 400.8,506.3 401.6,505 402.4,506.6 403.2,504.9 404,506.4 404.8,504.8 405.6,506.4 406.4,505.3 407.2,506.5 408,504.9 408.8,506.5 409.6,504.8 410.4,506.6 411.2,504.8 412,506.1 412.8,504.7 413.6,506.4 414.4,504.9 415.2,506.5 416,505.1 416.8,506.3 417.6,504.7 418.4,506.5 419.2,504.7 420,506.2 420.8,504.9 421.6,506.5 422.4,505.3 423.2,506.5 424,505 424.8,506.3 425.6,505.2 426.4,506.4 427.2,504.9 428,506.6 428.8,504.8 429.6,506.7 430.4,504.7 431.2,506.5 432,505.1 432.8,506.4 433.6,505.2 434.4,506.4 435.2,505.1 436,506.4 436.8,504.8 437.6,506.1 438.4,504.8 439.2,506.1 440,505 440.8,506.2 441.6,505.3 442.4,506.4 443.2,505.1 444,506.1 444.8,504.8 445.6,506.2 446.4,504.7 447.2,506.5 448,505.1 448.8,506.1 449.6,504.8 450.4,506.2 451.2,504.8 452,506.4 452.8,505 453.6,506.1 454.4,505 455.2,506.1 456,504.8 456.8,506.5 457.6,505.2 458.4,506.4 459.2,505.2 460,506.5 460.8,505.2 461.6,506.2 462.4,505.1 463.2,506.7 464,504.8 464.8,506.3 465.6,504.8 466.4,506.3 467.2,505.2 468,506.6 468.8,505.3 469.6,506.6 470.4,504.7 471.2,506.1 472,504.8 472.8,506.6 473.6,505.3 474.4,506.4 475.2,505.1 476,506.3 476.8,505 477.6,506.3 478.4,505.3 479.2,506.3 480,505.1 480.8,506.5 481.6,504.9 482.4,506.5 483.2,504.9 484,506.6 484.8,504.9 485.6,506.3 486.4,505.3 487.2,506.5 488,504.9 488.8,506.2 489.6,505 490.4,506.7 491.2,504.9 492,506.3 492.8,504.8 493.6,506.3 494.4,505.3 495.2,506.1 496,504.7 496.8,506.1 497.6,504.8 498.4,506.1 499.2,505 500,506.3 500.8,505.1 501.6,506.1 502.4,505 503.2,506.5 504,505 504.8,506.2 505.6,504.8 506.4,506.6 507.2,505 508,506.3 508.8,505.3 509.6,506.1 510.4,505.1 511.2,506.2 511.7,504.7 511.8,506.5 511.9,505.1 512,506.4 512,505.2 512.1,506.6 512.2,505 512.3,506.5 512.5,505.2 512.6,506.4 512.7,504.8 512.8,506.3 512.8,505.2 512.9,506.4 513,504.8 513.1,506.4 513.3,504.7 513.4,506.4 513.5,504.7 513.6,506.1 513.6,504.9 513.7,506.4 513.8,505.1 513.9,506.6 514,505.2 514.2,506.4 514.3,505.1 514.4,506.7 514.4,504.8 514.5,506.2 514.6,505.2 514.7,506.1 515,504.5 518.4,459.7 518.8,450.6 519.4,442.8 520.4,434.5 521.3,420.5 521.6,418.6 521.9,418.1 522,418.3 522.2,419.9 523.5,436.2 523.9,439.1 524.3,440.1 524.5,440.3 524.9,440.1 525.3,439.8 526,438 526.2,438 527,438.7 527.2,438.7 528.1,434.9 528.2,434.9 528.3,435.2 529,438.9 529.5,440.2 529.6,440.2 529.7,439.9 530.4,435.5 530.6,434.8 531.2,437.8 531.5,438.5 531.8,438.7 532.4,437.5 533,436.9 533.2,437.1 533.7,438.1 534.3,436.9 534.8,438.5 534.9,438.5 535.4,437.2 535.5,437.2 536,438.3 536.1,438.3 536.5,437 536.6,436.9 537.2,438.8 537.8,437.2 538.4,438.5 539,437.4 539.6,438.3 540.2,437.1 540.7,438.3 541.3,437.5 541.5,437.4 542.4,437.8 542.5,438.4 542.6,437.4 542.8,438.2 542.9,437.2 543,438.3 543.1,437.5 543.2,438.3 543.2,437.4 543.3,438.3 543.4,437.3 543.6,438.6 543.7,437.2 543.8,438.6 543.9,437.5 544,438.5 544,437.1 544.1,438.7 544.2,437.1 544.4,438.5 544.5,437 544.6,438.2 544.7,437.1 544.8,438.5 544.8,437.1 544.9,438.4 545,437.5 545.1,438.2 545.3,437.2 545.4,438.3 545.5,437 545.6,438.2 546.4,437.1 547.2,438.4 548,437.4 548.8,438.3 549.6,437.3 550.4,438.4 551.2,437.4 552,438.3 552.8,437 553.6,438.4 554.4,437.2 555.2,438.5 556,437.3 556.8,438.7 557.6,437.3 558.4,438.3 559.2,437.4 560,438.6 560.8,437.1 561.6,439.5 562.4,435.8 563.2,439.1 564,434.8 564.8,440.2 565.6,436.1 566.4,439.7 567.2,436.7 568,438.5 568.8,436.6 569.6,439.4 570.4,437 571.2,439.5 572,436.4 572.8,440.6 573.6,436.5 574.4,440.3 575.2,436.5 576,439.7 576.8,435.9 577.6,440 578.4,436.6 579.2,440.2 580,435.9 580.8,440.1 581.6,435.3 582.4,440.4 583.2,433 584,441.2 584.8,435.6 585.6,440.1 586.4,436.7 587.2,438.9 588,436.6 588.8,438.9 589.6,437 590.4,438.8 591.2,437 592,438.6 592.8,437.3 593.6,438.6 594.4,437.4 595.2,438.6 596,437.4 596.8,438.7 597.6,437.5 598.4,438.6 599.2,437.3 600,438.6 600.8,437.2 601.6,438.6 602.4,437.1 603.2,438.5 604,437 604.8,438.2 605.6,437 606.4,438.5 607.2,437 608,438.7 608.8,437 609.6,439 610.4,436 611.2,439.4 612,435.4 612.8,439 613.6,435.7 614.4,440.1 615.2,436.2 616,438.8 616.8,436.2 617.6,439.1 618.4,437 619.2,438.4 620,436.9 620.8,438.8 621.6,436.7 622.4,439.3 623.2,436.7 624,439.8 624.8,435.9 625.6,439.7 626.4,436 627.2,439.9 628,435.7 628.8,439 629.6,437 630.4,438.7 631.2,437.1 632,438.4 632.8,437.1 633.6,438.6 634.4,436.9 635.2,438.5 636,436.5 636.8,439.3 637.6,435.2 638.4,440.6 639.2,434.1 640,442 640.8,435.3 641.6,440 642.4,434 643.2,439.6 644,434.3 644.8,440.5 645.6,435.9 646.4,440.1 647.2,436.5 648,440.1 648.8,435 649.6,439.1 650.4,434.6 651.2,439.8 652,435.7 652.8,440.8 653.6,435.4 654.4,439.4 655.2,435.5 656,438.9 656.8,435.5 657.6,440.3 658.4,434.1 659.2,439.6 660,435.2 660.8,440.8 661.6,435.9 662.4,441.2 663.2,434 664,441.7 664.8,435.9 665.6,440.5 666.4,434.4 667.2,439.2 668,435.6 668.8,439.2" fill="none" stroke="#4cd64c" stroke-width="1.4" stroke-linejoin="round" clip-path="url(#c2)"/>
<path d="M52,707.2 57.1,707.2 57.1,498.5 57.6,486.2 58,481.3 58.3,480.2 58.5,480.8 58.7,483.2 59.6,500.6 59.7,502 60,502.9 60.2,503.1 60.4,503.1 60.9,501.4 61.2,501.1 61.5,501.5 61.9,502.8 62.2,503.1 62.6,502 63.3,500 63.4,500 63.5,500.1 63.8,501.2 63.9,501 63.9,501.4 64,501.2 64,501.5 64.1,501.2 64.1,501.5 64.2,501.3 64.3,501.6 64.3,501.3 64.4,501.8 64.4,501.2 64.5,501.7 64.6,501.3 64.6,501.7 64.7,501.4 64.8,501.8 64.8,501.2 64.8,501.9 64.9,501.1 64.9,501.7 65,501.1 65.1,501.8 65.1,500.9 65.2,501.5 65.2,500.7 65.3,501.4 65.4,500.6 65.4,501.2 65.5,500.3 65.6,501.1 65.6,500.4 65.6,501.2 65.7,500.3 65.7,501.2 65.8,500.5 65.9,501.5 65.9,500.6 66,501.6 66.1,500.6 66.1,501.5 66.2,500.8 66.2,501.6 66.3,500.9 66.4,501.8 66.4,501 66.4,502.1 66.5,500.8 66.5,502.2 66.6,501 66.7,502.4 66.7,501 66.8,502.2 66.9,501.1 67,502.8 67.1,501.7 67.2,503 67.2,501.3 67.4,503.1 67.4,501.6 67.5,503 67.5,501.6 67.6,503 67.7,501.5 67.7,503 67.8,501.1 67.8,502.5 67.9,501.4 68,502.3 68,501.5 68,502.4 68.1,500.9 68.2,502.5 68.2,501.1 68.3,502.5 68.3,500.8 68.4,502.5 68.5,501.3 68.5,502.7 68.6,501.4 68.7,502.6 68.7,501.4 68.8,503.3 68.9,501.5 69,502.7 69,501.3 69.1,503.1 69.1,501.3 69.2,503.1 69.3,501.8 69.3,503.5 69.4,501.7 69.5,503.7 69.5,501.8 69.6,503.4 69.7,502 69.8,503.7 69.8,501.9 69.9,504.2 70,502.1 70,504.3 70.1,502.1 70.1,504 70.2,501.6 70.3,504.3 70.3,501.7 70.4,504.4 70.5,502 71.2,503.4 72,502.6 72.8,505.3 73.6,503.1 74.4,505.7 75.2,503.6 76,505.8 76.8,503.5 77.6,505.1 78.4,503.4 79.2,505.3 80,503.7 80.8,505.7 81.6,502.9 82.4,505.1 83.2,503.2 84,505.7 84.8,503.4 85.6,505.4 86.4,503.5 87.2,505.4 88,503.4 88.8,505.7 89.6,503.6 90.4,505 91.2,502.9 92,505.1 92.8,503.2 93.6,505.6 94.4,503.4 95.2,505.8 96,503.4 96.8,505.1 97.6,503.7 98.4,505.8 99.2,503.5 100,505.8 100.8,503.3 101.6,505.8 102.4,503.7 103.2,505.7 104,502.8 104.8,505.6 105.6,503.6 106.4,505.9 107.2,503 108,505.1 108.8,502.8 109.6,505 110.4,503.6 111.2,505 112,503.2 112.8,505.3 113.6,503.7 114.4,505.4 115.2,502.9 116,505 116.8,503.2 117.6,505.1 118.4,503.3 119.2,505.3 120,503.5 120.8,505 121.6,503.2 122.4,505.3 123.2,503.1 124,505.1 124.8,502.8 125.6,505 126.4,503.6 127.2,505.5 128,503.6 128.8,505.2 129.6,503.3 130.4,505.6 131.2,502.9 132,505.2 132.8,503.1 133.6,505 134.4,502.9 135.2,505.6 136,502.9 136.8,505.1 137.6,503.3 138.4,505.6 139.2,503.7 140,505.7 140.8,503.1 141.6,505.7 142.4,503.6 143.2,505.7 144,503.2 144.8,505.1 145.6,503.6 146.4,505.7 147.2,503.4 148,505.2 148.8,503.4 149.6,505.6 150.4,503.6 151.2,505.1 152,503.1 152.8,505.8 153.6,503.1 154.4,505.8 155.2,503.5 156,505.3 156.8,503.4 157.6,505.3 158.4,503.5 159.2,505.7 160,503.5 160.8,505.3 161.6,503.3 162.4,505.9 163.2,503.4 164,505.6 164.8,503.4 165.6,505.7 166.4,503.4 167.2,505 168,503.3 168.8,505.3 169.6,503.5 170.4,505.2 171.2,503.7 172,505.6 172.8,503.2 173.6,505.5 174.4,503.2 175.2,505.3 176,503.3 176.8,505.4 177.6,502.9 178.4,505.3 179.2,503.6 180,505 180.8,503.4 181.6,505.5 182.4,503.2 183.2,505.6 184,503.1 184.8,505 185.6,503.4 186.4,505.3 187.2,503.6 188,505.5 188.8,503 189.6,505 190.4,503.3 191.2,505.1 192,503 192.8,505.5 193.6,503.7 194.4,505.4 195.2,503.5 196,505.1 196.8,503.1 197.6,505.3 198.4,502.9 199.2,505.8 200,503 200.8,505.3 201.6,502.9 202.4,505 203.2,503 203.2,505.3 203.4,502.9 203.7,505 203.9,503.2 204,505 204.2,503.5 204.5,505.5 204.7,503.6 204.8,505.6 205,503.3 205.3,505.1 205.5,503.2 205.6,505.3 205.8,503.7 206,505.6 206.3,505.4 206.6,507.1 211.3,569.7 211.5,572.2 211.8,572.8 213.1,572.5 217,572.5 217.3,571.8 217.5,573.2 217.6,572.1 217.8,573.1 218.1,572 218.3,573.2 218.4,572 218.6,573.1 219.2,571.9 220,572.9 220.8,572 221.6,573.2 222.4,571.9 223.2,573.2 224,572.2 224.8,573.2 225.6,572.1 226.4,573.2 227.2,571.9 228,573 228.8,572 229.6,573 230.4,571.8 231.2,573.1 232,572.2 232.8,573.1 233.6,572.2 234.4,572.9 235.2,572 236,573 236.8,572.2 237.6,573 238.4,572.1 239.2,572.9 240,572 240.8,572.8 241.6,572.2 242.4,572.9 243.2,571.9 244,573.2 244.8,571.9 245.6,572.9 246.4,571.9 247.2,573.2 248,571.8 248.8,573.1 249.6,572.1 250.4,573 251.2,572 252,572.8 252.8,572 253.6,572.9 254.4,571.8 255.2,573.1 256,571.9 256.8,572.8 257.6,571.9 258.4,573.2 259.2,572 260,572.9 260.8,572 261.6,573.1 262.4,572 263.2,573 264,571.9 264.8,573.2 265.6,572.1 266.4,573.2 267.2,572.2 268,573.1 268.8,572.1 269.6,573 270.4,572.1 271.2,572.9 272,572.1 272.8,573.3 273.6,572 274.4,573.2 275.2,572 276,573.2 276.8,572 277.6,573.3 278.4,572 279.2,572.9 280,572.1 280.8,572.8 281.6,572.2 282.4,573.1 283.2,572.1 284,573.2 284.8,572.1 285.6,573.2 286.4,572.1 287.2,572.9 288,572.1 288.8,572.9 289.6,572 290.4,573.2 291.2,572.2 292,572.9 292.8,572.2 293.6,573.2 294.4,572.2 295.2,573 296,571.8 296.8,573 297.6,572.2 298.4,572.9 299.2,571.8 300,572.9 300.8,571.8 301.6,572.9 302.4,572.2 303.2,573.2 304,571.9 304.8,573 305.6,571.9 306.4,572.9 307.2,571.8 308,573.1 308.8,571.8 309.6,573.1 310.4,572 311.2,573.2 312,572 312.8,572.9 313.6,572 314.4,572.9 315.2,571.9 316,573.3 316.8,572 317.6,573.2 318.4,572.1 319.2,572.8 320,572.2 320.8,572.8 321.6,572.1 322.4,572.9 323.2,572.1 324,573.1 324.8,571.9 325.6,573.2 326.4,571.9 327.2,573.2 328,571.9 328.8,573 329.6,572 330.4,572.9 331.2,572.2 332,573.2 332.8,572.2 333.6,573.2 334.4,572 335.2,572.8 336,571.9 336.8,573.1 337.6,571.8 338.4,573.1 339.2,571.8 340,573 340.8,572.1 341.6,573 342.4,571.9 343.2,573.2 344,571.9 344.8,573.2 345.6,572 346.4,573 347.2,572 348,573.2 348.8,572.1 349.6,572.8 350.4,572 351.2,573.1 352,571.9 352.8,573.2 353.6,571.9 354.4,573.2 355.2,571.9 356,573.2 356.8,572 357.4,573.2 357.6,571.8 357.7,572.8 357.9,572.2 358.2,573.3 358.4,571.9 358.5,572.9 358.7,571.8 359,572.9 359.2,572 359.2,573 359.5,572.1 359.8,572.9 360,572.2 360,573 360.3,572.2 360.6,572.4 360.8,572.1 361.1,570.4 366,507.3 366.3,505.1 367.2,504.6 369.7,505.2 370,505.7 371.3,505.7 371.5,506.3 371.8,505 372,506.3 372.1,504.8 372.3,506.3 372.6,504.6 372.8,506.4 372.8,504.6 373.6,506.7 374.4,504.6 375.2,506.8 376,504.5 376.8,506.6 377.6,504.7 378.4,506.4 379.2,504.7 380,506.3 380.8,504.4 381.6,507 382.4,505.1 383.2,506.2 384,504.8 384.8,506.6 385.6,504.8 386.4,506.5 387.2,504.6 388,506.5 388.8,504.8 389.6,506.2 390.4,504.7 391.2,506.3 392,504.5 392.8,506.6 393.6,504.9 394.4,506.8 395.2,504.4 396,506.4 396.8,504.8 397.6,507 398.4,504.4 399.2,506.5 400,504.9 400.8,506.9 401.6,505.1 402.4,506.3 403.2,504.7 404,506.7 404.8,504.7 405.6,506.8 406.4,504.4 407.2,506.5 408,504.9 408.8,506.9 409.6,504.9 410.4,506.9 411.2,504.6 412,506.9 412.8,504.6 413.6,506.3 414.4,504.6 415.2,506.6 416,505 416.8,506.3 417.6,504.9 418.4,506.3 419.2,505 420,506.9 420.8,504.4 421.6,507 422.4,504.7 423.2,506.7 424,505.1 424.8,506.3 425.6,504.5 426.4,506.7 427.2,504.7 428,506.8 428.8,504.5 429.6,506.8 430.4,505.1 431.2,506.7 432,504.5 432.8,506.9 433.6,504.4 434.4,506.6 435.2,504.7 436,506.2 436.8,504.7 437.6,506.7 438.4,504.4 439.2,506.9 440,505.1 440.8,506.3 441.6,504.8 442.4,506.9 443.2,505 444,506.8 444.8,504.7 445.6,506.9 446.4,504.9 447.2,506.5 448,505.1 448.8,506.6 449.6,504.5 450.4,506.6 451.2,504.7 452,507 452.8,504.5 453.6,506.5 454.4,504.4 455.2,506.8 456,504.9 456.8,506.4 457.6,504.6 458.4,506.6 459.2,504.7 460,506.3 460.8,504.5 461.6,506.9 462.4,504.8 463.2,506.5 464,504.4 464.8,507 465.6,505 466.4,506.7 467.2,504.8 468,506.5 468.8,504.7 469.6,506.8 470.4,504.9 471.2,506.5 472,504.4 472.8,506.8 473.6,504.8 474.4,506.5 475.2,504.6 476,507.4 476.8,504 477.6,506.7 478.4,504.2 479.2,506.5 480,503.7 480.8,507.8 481.6,504.5 482.4,507 483.2,504.4 484,506.8 484.8,503.9 485.6,507.1 486.4,504.8 487.2,506.8 488,503.9 488.8,507.5 489.6,504.8 490.4,507.3 491.2,504 492,507.4 492.8,504 493.6,507.6 494.4,504.4 495.2,507.7 496,504.2 496.8,506.6 497.6,504 498.4,507 499.2,504 500,507.1 500.8,504.2 501.6,507.3 502.4,503.9 503.2,506.9 504,503.9 504.8,506.9 505.6,503.8 506.4,506.9 507.2,504.7 508,506.6 508.8,504 509.6,507 510.4,504.1 511.2,507 511.7,504.2 511.8,507.7 511.9,503.6 512,506.6 512,503.6 512.1,507.2 512.2,503.8 512.3,507.8 512.5,504.6 512.6,507.1 512.7,503.6 512.8,507.2 512.8,503.6 512.9,507.7 513,503.5 513.1,507.4 513.3,504.7 513.4,507.7 513.5,504.6 513.6,506.8 513.6,504.3 513.7,506.8 513.8,504.6 513.9,507.4 514,503.6 514.2,506.9 514.3,504.3 514.4,507.4 514.4,504.4 514.5,507.2 514.6,503.6 514.7,506.7 515,504.5 519.6,440.6 519.8,438.3 520,438.2 520.1,438.4 520.3,437.1 520.8,431.4 521.3,421.9 521.6,419.9 521.9,419.3 522,419.5 522.2,421.5 523.1,434.2 523.5,436.7 523.9,438 524.1,438.4 524.8,438.9 525.3,439.1 525.4,439 525.9,435.1 526.2,437.1 526.5,438.3 526.8,438.7 527.1,438.3 527.4,438.8 527.7,438.1 528,435.8 528.1,435.3 528.2,435.3 528.7,438.7 529,439.4 529.4,439.4 529.7,438.9 529.9,438.1 530.4,434.4 530.8,436.9 531.8,440.1 532,439.1 532.5,435.2 532.8,434.5 533.2,437 533.9,439.3 534,439.3 534.1,439.1 534.5,437.9 534.6,437.9 535,438.5 535.2,438.5 535.8,437.1 536.5,438.6 537.2,437.4 537.9,438.6 538.6,437.4 539.2,438.3 539.4,438.3 539.7,437.5 539.9,437.3 540.6,438.4 540.7,438.1 540.8,438.3 540.8,437.9 540.9,438 541.1,437.5 541.2,437.8 541.3,437.4 541.4,437.8 541.5,437.4 541.6,437.9 541.6,437.6 541.7,438 541.9,437.7 542,438.1 542.1,437.8 542.2,438.3 542.3,437.9 542.4,438.4 542.4,437.7 542.5,439.2 542.6,436.7 542.8,439 542.9,436.8 543,439.1 543.1,436.5 543.2,438.8 543.2,436.6 543.3,438.8 543.4,436.5 543.6,438.9 543.7,436.6 543.8,438.9 543.9,436.5 544.1,439.9 544.2,436.6 544.4,439.9 544.5,436.3 544.6,439 544.7,437.1 544.8,439.9 544.8,436.1 544.9,439.2 545,435.9 545.1,439 545.3,436 545.4,439.9 545.5,436.5 545.6,439.6 546.4,436.5 547.2,440.1 548,435.9 548.8,439.7 549.6,436.8 550.4,440.4 551.2,436.4 552,439.6 552.8,436.2 553.6,439.8 554.4,434.8 555.2,440 556,435.5 556.8,439.2 557.6,436 558.4,440.2 559.2,436.5 560,439.5 560.8,437 561.6,439.2 562.4,436.2 563.2,439.4 564,436 564.8,440.8 565.6,435.8 566.4,440.6 567.2,436.5 568,440.7 568.8,436.5 569.6,439.6 570.4,436.5 571.2,440.5 572,436 572.8,441.4 573.6,435 574.4,441.2 575.2,435.5 576,439.5 576.8,436.5 577.6,439.6 578.4,436.6 579.2,440.1 580,435.3 580.8,440.1 581.6,436.8 582.4,439.7 583.2,436.5 584,438.9 584.8,437.5 585.6,438.9 586.4,437.3 587.2,438.9 588,437.2 588.8,439 589.6,437.5 590.4,438.9 591.2,437 592,439.3 592.8,437 593.6,439.6 594.4,436.6 595.2,440.2 596,436.8 596.8,439.3 597.6,435.5 598.4,439.9 599.2,436.9 600,438.9 600.8,437 601.6,438.6 602.4,437.4 603.2,439 604,437.4 604.8,439 605.6,436.8 606.4,439.4 607.2,436.7 608,439.5 608.8,435.1 609.6,442.3 610.4,434.9 611.2,440.5 612,434.7 612.8,440.2 613.6,435.6 614.4,440.9 615.2,436.3 616,439.7 616.8,436.2 617.6,438.9 618.4,437.1 619.2,439.4 620,436.6 620.8,439.4 621.6,436.7 622.4,439.3 623.2,436.9 624,439.3 624.8,436.7 625.6,439.9 626.4,436 627.2,439.3 628,436.7 628.8,439.6 629.6,436.9 630.4,438.6 631.2,437.1 632,439.1 632.8,436.9 633.6,438.7 634.4,437.3 635.2,438.6 636,437.5 636.8,438.5 637.6,437.1 638.4,438.4 639.2,436.9 640,438.9 640.8,437.1 641.6,438.9 642.4,436.3 643.2,440.3 644,436.7 644.8,440 645.6,436.3 646.4,439.6 647.2,435.4 648,439.8 648.8,436.6 649.6,439.4 650.4,435.5 651.2,440.3 652,436 652.8,440.1 653.6,435.7 654.4,439.5 655.2,434.8 656,439.4 656.8,436.5 657.6,438.9 658.4,436.1 659.2,439.3 660,436.8 660.8,438.7 661.6,437 662.4,438.6 663.2,436.6 664,439 664.8,436.1 665.6,439.8 666.4,435.6 667.2,440.3 668,435.1 668.8,440.6" fill="none" stroke="#c832ca" stroke-width="1.4" stroke-linejoin="round" clip-path="url(#c2)"/>
<path d="M52,707.2 57.1,707.2 57.1,502.6 57.4,494.5 57.8,491.4 58.3,489.7 58.6,490 58.8,490.8 59.7,499.8 60.5,506 60.7,506.4 61,506.3 61.2,506.4 62.2,509.6 62.5,510.2 62.7,510.4 63,509.7 63.2,507.6 63.4,506.9 63.5,507 63.5,506.9 63.6,507.2 63.6,507.1 63.9,507.9 64,507.8 64,508 64.1,507.9 64.4,508.8 64.4,508.6 64.5,509.1 64.6,508.9 64.6,509.4 64.7,509.1 64.8,509.6 64.8,509.2 64.8,509.6 65,509 65.1,509.3 65.4,506.7 65.4,506.9 65.6,506 65.6,506.4 65.7,505.8 65.7,506.6 65.8,505.9 66,507.1 66.1,506.5 66.1,507.4 66.2,506.6 66.2,507.4 66.3,507 66.4,507.6 66.5,507 66.5,507.8 66.6,507.1 66.7,508.1 66.7,507.3 66.8,508.3 66.9,507.4 66.9,508.4 67,507.8 67,508.8 67.1,508.3 67.2,509.4 67.2,508.5 67.2,509.4 67.3,508.6 67.4,509.5 67.5,507.2 67.6,507.4 67.7,505.5 67.7,506 67.8,505 67.8,505.9 67.9,505 68,506 68,504.8 68,506.2 68.1,505.2 68.2,506.3 68.2,505.3 68.3,506.6 68.3,505.4 68.5,507.2 68.6,506.2 68.7,507.3 68.7,506.1 68.8,507.8 68.8,506.4 68.8,507.5 68.9,506.4 69,508 69,507.1 69.1,508.1 69.1,507.3 69.2,508.1 69.3,507 69.3,508.2 69.4,507.1 69.5,508.4 69.5,507.1 69.6,508.1 69.6,506.7 69.6,508.3 69.7,506.6 69.8,508.1 69.8,506.9 69.9,508 70,506.5 70,508.1 70.1,506.4 70.1,508.1 70.2,506.4 70.3,508.1 70.3,506.1 70.4,508.1 70.5,506.3 71.2,507.8 72,505.9 72.8,507.1 73.6,505.2 74.4,506.4 75.2,505 76,506.2 76.8,505 77.6,506.7 78.4,505.2 79.2,506.3 80,504.9 80.8,506.5 81.6,504.8 82.4,506.3 83.2,505.2 84,506.4 84.8,504.7 85.6,506.4 86.4,505 87.2,506.6 88,504.9 88.8,506.2 89.6,505 90.4,506.7 91.2,505.2 92,506.6 92.8,505.1 93.6,506.6 94.4,505.1 95.2,506.5 96,504.7 96.8,506.2 97.6,504.6 98.4,506.2 99.2,505.2 100,506.6 100.8,504.9 101.6,506.1 102.4,504.8 103.2,506.4 104,504.6 104.8,506.7 105.6,504.7 106.4,506.5 107.2,504.7 108,506.6 108.8,505.1 109.6,506.6 110.4,505.1 111.2,506.4 112,505.2 112.8,506.2 113.6,504.9 114.4,506.7 115.2,504.7 116,506.2 116.8,504.9 117.6,506.3 118.4,505.1 119.2,506.4 120,504.8 120.8,506.7 121.6,505.2 122.4,506.3 123.2,504.8 124,506.4 124.8,505 125.6,506.6 126.4,505.2 127.2,506.7 128,505.1 128.8,506.7 129.6,504.7 130.4,506.7 131.2,504.9 132,506.5 132.8,505.2 133.6,506.4 134.4,504.8 135.2,506.3 136,504.8 136.8,506.5 137.6,504.8 138.4,506.7 139.2,505 140,506.5 140.8,505.2 141.6,506.6 142.4,504.7 143.2,506.6 144,504.8 144.8,506.5 145.6,505 146.4,506.6 147.2,505.2 148,506.5 148.8,505.2 149.6,506.6 150.4,504.9 151.2,506.5 152,505.1 152.8,506.4 153.6,504.8 154.4,506.4 155.2,504.8 156,506.2 156.8,505 157.6,506.2 158.4,504.8 159.2,506.4 160,504.8 160.8,506.6 161.6,505.2 162.4,506.5 163.2,504.7 164,506.7 164.8,505.2 165.6,506.2 166.4,505 167.2,506.6 168,505.2 168.8,506.8 169.6,504.8 170.4,506.1 171.2,504.8 172,506.4 172.8,505.1 173.6,506.5 174.4,504.8 175.2,506.5 176,505.1 176.8,506.2 177.6,505.2 178.4,506.2 179.2,505 180,506.3 180.8,505.2 181.6,506.7 182.4,505.1 183.2,506.2 184,505.1 184.8,506.4 185.6,504.9 186.4,506.2 187.2,505.2 188,506.1 188.8,505 189.6,506.8 190.4,504.7 191.2,506.7 192,504.7 192.8,506.3 193.6,504.8 194.4,506.4 195.2,505 196,506.6 196.8,504.9 197.6,506.5 198.4,505.1 199.2,506.7 200,504.8 200.8,506.5 201.6,504.8 202.4,506.7 203.2,505.1 203.2,506.3 203.4,504.6 203.7,506.6 203.9,504.7 204,506.3 204.2,504.6 204.5,506.4 204.7,504.7 204.8,506.7 205,504.9 205.3,506.4 205.5,504.9 205.6,506.2 205.8,505.2 206,506.7 206.3,505.4 206.6,507.1 211.3,569.7 211.5,572.2 211.8,572.8 213.1,572.5 217,572.5 217.3,572.1 217.5,573 217.6,571.9 217.8,573.1 218.1,572 218.3,573.2 218.4,572 218.6,573.1 219.2,572.2 220,572.8 220.8,571.9 221.6,573.1 222.4,572.1 223.2,572.8 224,572.2 224.8,572.9 225.6,571.9 226.4,572.9 227.2,572.2 228,573.1 228.8,572.2 229.6,572.9 230.4,571.9 231.2,573.1 232,571.9 232.8,572.8 233.6,572.1 234.4,573 235.2,572.1 236,573.1 236.8,572.2 237.6,573 238.4,572.2 239.2,572.9 240,571.9 240.8,573 241.6,572 242.4,572.9 243.2,572 244,573.2 244.8,572.1 245.6,572.8 246.4,572.1 247.2,573.1 248,572.1 248.8,573.1 249.6,572.2 250.4,573 251.2,572.1 252,573 252.8,572.1 253.6,573 254.4,572 255.2,573.1 256,572.1 256.8,572.8 257.6,571.9 258.4,572.8 259.2,572.1 260,573.1 260.8,571.9 261.6,573.1 262.4,572.2 263.2,573.2 264,572.2 264.8,572.8 265.6,572 266.4,573.2 267.2,572 268,573.1 268.8,572 269.6,572.8 270.4,572 271.2,573.1 272,572.1 272.8,573.1 273.6,572.1 274.4,572.8 275.2,571.9 276,572.9 276.8,572.2 277.6,572.8 278.4,572.1 279.2,573 280,572.2 280.8,572.9 281.6,572.1 282.4,572.8 283.2,572.1 284,572.8 284.8,572.2 285.6,572.8 286.4,571.9 287.2,573.1 288,571.9 288.8,573.1 289.6,572 290.4,572.9 291.2,572 292,573 292.8,571.9 293.6,572.9 294.4,571.9 295.2,573.2 296,571.9 296.8,573 297.6,572 298.4,573.2 299.2,572.1 300,573.1 300.8,572.2 301.6,572.9 302.4,572 303.2,573.1 304,572.2 304.8,573.1 305.6,572 306.4,572.8 307.2,572.2 308,573 308.8,571.9 309.6,573.2 310.4,571.9 311.2,572.9 312,571.9 312.8,572.9 313.6,572.1 314.4,573.1 315.2,572.1 316,572.9 316.8,572.1 317.6,573.2 318.4,572.1 319.2,572.8 320,572.1 320.8,573 321.6,572 322.4,573.2 323.2,572 324,573.1 324.8,571.9 325.6,573 326.4,572.1 327.2,573 328,572.2 328.8,572.8 329.6,572.2 330.4,572.8 331.2,572.2 332,572.9 332.8,572.2 333.6,573.2 334.4,572.1 335.2,572.8 336,572 336.8,573.1 337.6,571.9 338.4,572.9 339.2,572.1 340,573.1 340.8,572 341.6,573 342.4,571.9 343.2,573.2 344,572.2 344.8,572.9 345.6,571.9 346.4,572.8 347.2,572.1 348,573.1 348.8,572.2 349.6,573 350.4,571.9 351.2,573 352,572.2 352.8,572.8 353.6,572.1 354.4,572.8 355.2,572 356,572.9 356.8,572.1 357.4,573.1 357.6,572 357.7,573.1 357.9,572.2 358.2,572.9 358.4,572 358.5,573 358.7,571.9 359,573 359.2,571.9 359.2,572.9 359.5,572 359.8,573.1 360,571.9 360,572.9 360.3,571.9 360.6,572.4 360.8,572.1 361.1,570.4 366,507.3 366.3,505.1 367.2,504.6 369.7,505.2 370,505.7 371.3,505.7 371.5,506 371.8,505.1 372,506.1 372.1,505 372.3,506 372.6,505 372.8,506.4 372.8,505.2 373.6,506.2 374.4,505.1 375.2,506.4 376,505.3 376.8,506.4 377.6,505.2 378.4,506.2 379.2,505 380,506 380.8,505.3 381.6,506.3 382.4,505.1 383.2,506.1 384,505.1 384.8,506.1 385.6,505.4 386.4,506.1 387.2,505.3 388,506.2 388.8,505.2 389.6,506.2 390.4,505 391.2,506.2 392,505.3 392.8,506.4 393.6,505.1 394.4,506.4 395.2,505.2 396,506.3 396.8,505.2 397.6,506.4 398.4,505.3 399.2,506.4 400,505.2 400.8,506.3 401.6,505.1 402.4,506.3 403.2,505.3 404,506.4 404.8,505.2 405.6,506 406.4,505.1 407.2,506 408,505.1 408.8,506.3 409.6,505.3 410.4,506 411.2,505.3 412,506.3 412.8,505.1 413.6,506.4 414.4,505.2 415.2,506 416,505.1 416.8,506.4 417.6,505.1 418.4,506.2 419.2,505.3 420,506.3 420.8,505 421.6,506.1 422.4,505.1 423.2,506.3 424,504.9 424.8,506.1 425.6,505.2 426.4,506 427.2,505.3 428,506.3 428.8,505.3 429.6,506.4 430.4,505.2 431.2,506.3 432,505.2 432.8,506.3 433.6,505.2 434.4,506.1 435.2,505.3 436,506.1 436.8,505.3 437.6,506.4 438.4,505 439.2,506.3 440,505.4 440.8,506.4 441.6,505 442.4,506.4 443.2,505.1 444,506.1 444.8,505.3 445.6,506.2 446.4,505.3 447.2,506 448,505 448.8,506.2 449.6,505.1 450.4,506 451.2,505 452,506.3 452.8,505.4 453.6,506.1 454.4,505.1 455.2,506 456,505.4 456.8,506 457.6,505.3 458.4,506.3 459.2,505 460,506.2 460.8,505.3 461.6,506.3 462.4,505.1 463.2,506 464,505.3 464.8,506.3 465.6,505.1 466.4,506.2 467.2,505.2 468,506.1 468.8,505.1 469.6,506 470.4,505 471.2,506.3 472,505.1 472.8,506.5 473.6,504.9 474.4,506.4 475.2,504.8 476,506.6 476.8,504.5 477.6,506.8 478.4,504.9 479.2,506.3 480,504.2 480.8,507 481.6,504.5 482.4,506.8 483.2,504.2 484,506.4 484.8,504.9 485.6,506.6 486.4,504.1 487.2,507 488,504.5 488.8,506.6 489.6,504.9 490.4,506.3 491.2,504.9 492,506.5 492.8,504.6 493.6,506.7 494.4,504.1 495.2,507.2 496,504.5 496.8,506.5 497.6,504.8 498.4,506.3 499.2,504.4 500,506.7 500.8,504.2 501.6,506.6 502.4,504.2 503.2,506.7 504,504.4 504.8,506.7 505.6,504.3 506.4,506.5 507.2,504.9 508,506.4 508.8,504.7 509.6,507 510.4,504.6 511.2,507.1 511.7,504.5 511.8,506.8 511.9,504.6 512,506.4 512,504.5 512.1,506.5 512.2,505 512.3,506.4 512.5,504.9 512.6,506.9 512.7,504.8 512.8,506.6 512.8,504.7 512.9,507.2 513,504.8 513.1,506.6 513.3,504.8 513.4,506.6 513.5,504.8 513.6,507.1 513.6,504.1 513.7,506.7 513.8,504.2 513.9,506.4 514,504.6 514.2,507.1 514.3,505 514.4,507.3 514.4,504.7 514.5,506.8 514.6,504.2 514.7,507.2 514.8,505.2 515.2,505.2 515.3,504.2 519,459.4 519.6,449.8 520.4,440.5 521.1,429.6 521.5,426.4 522,425 522.3,424.6 522.6,424.9 522.8,426 524,435.4 524.8,437.8 525.2,438.5 525.4,438.6 526,437.6 526.5,436.9 526.9,437.2 527.4,438.7 527.7,438.6 528.1,438 528.7,437.6 528.9,437.6 529.4,437.9 529.6,438 530.4,435.9 531,437.6 531.2,437.9 531.9,436.9 532.7,437.8 533.5,437.1 533.7,437.2 534.4,437.8 535.2,437.2 536,437.8 536.9,437.4 537.8,437.8 538.4,437.4 538.7,437.4 539.4,437.9 540.3,437.4 540.4,437.6 540.5,437.5 540.6,437.7 540.7,437.6 540.8,437.8 540.8,437.7 540.9,437.9 541.1,437.8 541.2,437.9 541.3,437.7 541.4,437.9 541.5,437.7 541.6,437.9 541.6,437.6 541.7,437.8 541.9,437.6 542,437.8 542.1,437.4 542.2,437.7 542.3,437.5 542.4,437.8 542.4,437.4 542.5,438.1 542.6,436.7 542.8,438 542.9,437.2 543,438.5 543.1,436.7 543.2,438.3 543.2,437 543.3,438.5 543.4,437.1 543.6,438.3 543.7,437.1 543.8,438.3 543.9,437.2 544,438.4 544,436.8 544.1,438.7 544.2,436.9 544.4,438.5 544.5,437 544.6,438.3 544.7,436.9 544.8,438.8 544.8,437 544.9,438.6 545,436.4 545.1,438.9 545.3,436.5 545.4,438.3 545.5,436.3 545.6,438.6 546.4,436.6 547.2,439 548,437 548.8,438.8 549.6,436.5 550.4,438.5 551.2,437.1 552,438.5 552.8,437.1 553.6,438.2 554.4,436.7 555.2,438.7 556,436.9 556.8,438.7 557.6,436.1 558.4,438.8 559.2,436.7 560,438.6 560.8,436.4 561.6,438.9 562.4,436.7 563.2,438.5 564,436.3 564.8,438.5 565.6,436.9 566.4,438.3 567.2,437.1 568,438.1 568.8,437.1 569.6,438.2 570.4,436.7 571.2,438.3 572,436.7 572.8,439.4 573.6,436.4 574.4,439.3 575.2,436.7 576,439 576.8,437 577.6,438.9 578.4,436.6 579.2,438.5 580,437.2 580.8,438.3 581.6,437.1 582.4,438.2 583.2,437.1 584,438 584.8,437.1 585.6,438 586.4,437.3 587.2,438.1 588,437.4 588.8,438 589.6,437.1 590.4,438 591.2,437.3 592,438.1 592.8,437.4 593.6,438 594.4,437.3 595.2,438.1 596,437.4 596.8,438 597.6,437.4 598.4,438.2 599.2,437.1 600,438.1 600.8,437.3 601.6,438.2 602.4,437.4 603.2,438 604,437.2 604.8,438.1 605.6,437.5 606.4,438.1 607.2,437.2 608,438 608.8,437.2 609.6,438.2 610.4,437.2 611.2,438.2 612,437.2 612.8,438.3 613.6,437.4 614.4,438 615.2,437.3 616,438.2 616.8,437.2 617.6,438.2 618.4,436.9 619.2,438.5 620,436.9 620.8,438.3 621.6,437 622.4,438.5 623.2,436.4 624,438.4 624.8,436.9 625.6,438.7 626.4,437 627.2,438.6 628,437.3 628.8,438.1 629.6,437.4 630.4,438.2 631.2,437.3 632,438.2 632.8,437.2 633.6,438.2 634.4,437.5 635.2,438.2 636,437.3 636.8,438.3 637.6,437.3 638.4,438 639.2,437.4 640,438.1 640.8,437.5 641.6,438.3 642.4,437.2 643.2,438.4 644,437.4 644.8,438.3 645.6,437 646.4,438.7 647.2,437.2 648,438.7 648.8,436.4 649.6,438.8 650.4,437 651.2,438.7 652,436.7 652.8,438.8 653.6,437 654.4,438.4 655.2,437.3 656,438.3 656.8,437.3 657.6,438.3 658.4,437.3 659.2,438.4 660,437.5 660.8,438.1 661.6,437.4 662.4,438.2 663.2,437.3 664,438.2 664.8,437.3 665.6,438.3 666.4,437.5 667.2,438.1 668,437.4 668.8,438.2" fill="none" stroke="#3584ba" stroke-width="1.4" stroke-linejoin="round" clip-path="url(#c2)"/>
<rect x="52" y="404.2" width="617.2" height="321.4" fill="none" stroke="#555" stroke-width="1.8"/>
<line x1="52" y1="725.6" x2="52" y2="732.1" stroke="#555" stroke-width="1.4" />
<line x1="52" y1="404.2" x2="52" y2="397.7" stroke="#555" stroke-width="1.4" />
<text x="52" y="744.6" font-size="10.5" text-anchor="middle" font-weight="bold" fill="#111" stroke="#111" stroke-width="0.3" >0</text>
<line x1="113.7" y1="725.6" x2="113.7" y2="732.1" stroke="#555" stroke-width="1.4" />
<line x1="113.7" y1="404.2" x2="113.7" y2="397.7" stroke="#555" stroke-width="1.4" />
<text x="113.7" y="744.6" font-size="10.5" text-anchor="middle" font-weight="bold" fill="#111" stroke="#111" stroke-width="0.3" >0.2</text>
<line x1="175.4" y1="725.6" x2="175.4" y2="732.1" stroke="#555" stroke-width="1.4" />
<line x1="175.4" y1="404.2" x2="175.4" y2="397.7" stroke="#555" stroke-width="1.4" />
<text x="175.4" y="744.6" font-size="10.5" text-anchor="middle" font-weight="bold" fill="#111" stroke="#111" stroke-width="0.3" >0.4</text>
<line x1="237.1" y1="725.6" x2="237.1" y2="732.1" stroke="#555" stroke-width="1.4" />
<line x1="237.1" y1="404.2" x2="237.1" y2="397.7" stroke="#555" stroke-width="1.4" />
<text x="237.1" y="744.6" font-size="10.5" text-anchor="middle" font-weight="bold" fill="#111" stroke="#111" stroke-width="0.3" >0.6</text>
<line x1="298.8" y1="725.6" x2="298.8" y2="732.1" stroke="#555" stroke-width="1.4" />
<line x1="298.8" y1="404.2" x2="298.8" y2="397.7" stroke="#555" stroke-width="1.4" />
<text x="298.8" y="744.6" font-size="10.5" text-anchor="middle" font-weight="bold" fill="#111" stroke="#111" stroke-width="0.3" >0.8</text>
<line x1="360.5" y1="725.6" x2="360.5" y2="732.1" stroke="#555" stroke-width="1.4" />
<line x1="360.5" y1="404.2" x2="360.5" y2="397.7" stroke="#555" stroke-width="1.4" />
<text x="360.5" y="744.6" font-size="10.5" text-anchor="middle" font-weight="bold" fill="#111" stroke="#111" stroke-width="0.3" >1</text>
<line x1="422.2" y1="725.6" x2="422.2" y2="732.1" stroke="#555" stroke-width="1.4" />
<line x1="422.2" y1="404.2" x2="422.2" y2="397.7" stroke="#555" stroke-width="1.4" />
<text x="422.2" y="744.6" font-size="10.5" text-anchor="middle" font-weight="bold" fill="#111" stroke="#111" stroke-width="0.3" >1.2</text>
<line x1="483.9" y1="725.6" x2="483.9" y2="732.1" stroke="#555" stroke-width="1.4" />
<line x1="483.9" y1="404.2" x2="483.9" y2="397.7" stroke="#555" stroke-width="1.4" />
<text x="483.9" y="744.6" font-size="10.5" text-anchor="middle" font-weight="bold" fill="#111" stroke="#111" stroke-width="0.3" >1.4</text>
<line x1="545.6" y1="725.6" x2="545.6" y2="732.1" stroke="#555" stroke-width="1.4" />
<line x1="545.6" y1="404.2" x2="545.6" y2="397.7" stroke="#555" stroke-width="1.4" />
<text x="545.6" y="744.6" font-size="10.5" text-anchor="middle" font-weight="bold" fill="#111" stroke="#111" stroke-width="0.3" >1.6</text>
<line x1="607.3" y1="725.6" x2="607.3" y2="732.1" stroke="#555" stroke-width="1.4" />
<line x1="607.3" y1="404.2" x2="607.3" y2="397.7" stroke="#555" stroke-width="1.4" />
<text x="607.3" y="744.6" font-size="10.5" text-anchor="middle" font-weight="bold" fill="#111" stroke="#111" stroke-width="0.3" >1.8</text>
<line x1="669" y1="725.6" x2="669" y2="732.1" stroke="#555" stroke-width="1.4" />
<line x1="669" y1="404.2" x2="669" y2="397.7" stroke="#555" stroke-width="1.4" />
<text x="669" y="744.6" font-size="10.5" text-anchor="middle" font-weight="bold" fill="#111" stroke="#111" stroke-width="0.3" >2</text>
<line x1="45.5" y1="707.2" x2="52" y2="707.2" stroke="#555" stroke-width="1.4" />
<line x1="669.2" y1="707.2" x2="675.7" y2="707.2" stroke="#555" stroke-width="1.4" />
<text x="42.3" y="710.9" font-size="10.5" text-anchor="end" font-weight="bold" fill="#111" stroke="#111" stroke-width="0.3" >0</text>
<line x1="45.5" y1="673.53" x2="52" y2="673.53" stroke="#555" stroke-width="1.4" />
<line x1="669.2" y1="673.53" x2="675.7" y2="673.53" stroke="#555" stroke-width="1.4" />
<text x="42.3" y="677.23" font-size="10.5" text-anchor="end" font-weight="bold" fill="#111" stroke="#111" stroke-width="0.3" >100</text>
<line x1="45.5" y1="639.86" x2="52" y2="639.86" stroke="#555" stroke-width="1.4" />
<line x1="669.2" y1="639.86" x2="675.7" y2="639.86" stroke="#555" stroke-width="1.4" />
<text x="42.3" y="643.56" font-size="10.5" text-anchor="end" font-weight="bold" fill="#111" stroke="#111" stroke-width="0.3" >200</text>
<line x1="45.5" y1="606.19" x2="52" y2="606.19" stroke="#555" stroke-width="1.4" />
<line x1="669.2" y1="606.19" x2="675.7" y2="606.19" stroke="#555" stroke-width="1.4" />
<text x="42.3" y="609.89" font-size="10.5" text-anchor="end" font-weight="bold" fill="#111" stroke="#111" stroke-width="0.3" >300</text>
<line x1="45.5" y1="572.52" x2="52" y2="572.52" stroke="#555" stroke-width="1.4" />
<line x1="669.2" y1="572.52" x2="675.7" y2="572.52" stroke="#555" stroke-width="1.4" />
<text x="42.3" y="576.22" font-size="10.5" text-anchor="end" font-weight="bold" fill="#111" stroke="#111" stroke-width="0.3" >400</text>
<line x1="45.5" y1="538.85" x2="52" y2="538.85" stroke="#555" stroke-width="1.4" />
<line x1="669.2" y1="538.85" x2="675.7" y2="538.85" stroke="#555" stroke-width="1.4" />
<text x="42.3" y="542.55" font-size="10.5" text-anchor="end" font-weight="bold" fill="#111" stroke="#111" stroke-width="0.3" >500</text>
<line x1="45.5" y1="505.18" x2="52" y2="505.18" stroke="#555" stroke-width="1.4" />
<line x1="669.2" y1="505.18" x2="675.7" y2="505.18" stroke="#555" stroke-width="1.4" />
<text x="42.3" y="508.88" font-size="10.5" text-anchor="end" font-weight="bold" fill="#111" stroke="#111" stroke-width="0.3" >600</text>
<line x1="45.5" y1="471.51" x2="52" y2="471.51" stroke="#555" stroke-width="1.4" />
<line x1="669.2" y1="471.51" x2="675.7" y2="471.51" stroke="#555" stroke-width="1.4" />
<text x="42.3" y="475.21" font-size="10.5" text-anchor="end" font-weight="bold" fill="#111" stroke="#111" stroke-width="0.3" >700</text>
<line x1="45.5" y1="437.84" x2="52" y2="437.84" stroke="#555" stroke-width="1.4" />
<line x1="669.2" y1="437.84" x2="675.7" y2="437.84" stroke="#555" stroke-width="1.4" />
<text x="42.3" y="441.54" font-size="10.5" text-anchor="end" font-weight="bold" fill="#111" stroke="#111" stroke-width="0.3" >800</text>
<line x1="45.5" y1="404.17" x2="52" y2="404.17" stroke="#555" stroke-width="1.4" />
<line x1="669.2" y1="404.17" x2="675.7" y2="404.17" stroke="#555" stroke-width="1.4" />
<text x="42.3" y="407.87" font-size="10.5" text-anchor="end" font-weight="bold" fill="#111" stroke="#111" stroke-width="0.3" >900</text>
<text x="360.9" y="757.9" font-size="11.5" text-anchor="middle" font-weight="bold" fill="#111" stroke="#111" stroke-width="0.3" >Time (seconds)</text>
<text x="0" y="0" font-size="11.5" text-anchor="middle" font-weight="bold" fill="#111" stroke="#111" stroke-width="0.3" transform="translate(13 553.1) rotate(-90) scale(1 0.9)" >Load Power (W)</text>
<rect x="550.5" y="477" width="127.9" height="44.6" fill="#fff" stroke="#858585" stroke-width="1.2"/>
<line x1="552.5" y1="483.2" x2="569" y2="483.2" stroke="#c8463c" stroke-width="1.6" />
<text x="570.5" y="486.4" font-size="9.4" text-anchor="start" font-weight="bold" fill="#111" stroke="#111" stroke-width="0.3" >Classical PI</text>
<line x1="552.5" y1="494" x2="569" y2="494" stroke="#4cd64c" stroke-width="1.6" />
<text x="570.5" y="497.2" font-size="9.4" text-anchor="start" font-weight="bold" fill="#111" stroke="#111" stroke-width="0.3" >Fuzzy-PI based PSO</text>
<line x1="552.5" y1="504.9" x2="569" y2="504.9" stroke="#c832ca" stroke-width="1.6" />
<text x="570.5" y="508.1" font-size="9.4" text-anchor="start" font-weight="bold" fill="#111" stroke="#111" stroke-width="0.3" >Fuzzy-PI based TLBO</text>
<line x1="552.5" y1="515.7" x2="569" y2="515.7" stroke="#3584ba" stroke-width="1.6" />
<text x="570.5" y="518.9" font-size="9.4" text-anchor="start" font-weight="bold" fill="#111" stroke="#111" stroke-width="0.3" >Fuzzy-2DOF-PI based HO</text>
<rect x="91.6" y="595.9" width="180" height="85.9" fill="#fff" stroke="none"/>
<clipPath id="ci2"><rect x="91.6" y="595.9" width="180" height="85.9"/></clipPath>
<line x1="117.05" y1="595.9" x2="117.05" y2="681.8" stroke="#dddddd" stroke-width="1" />
<line x1="151.1" y1="595.9" x2="151.1" y2="681.8" stroke="#dddddd" stroke-width="1" />
<line x1="185.15" y1="595.9" x2="185.15" y2="681.8" stroke="#dddddd" stroke-width="1" />
<line x1="219.2" y1="595.9" x2="219.2" y2="681.8" stroke="#dddddd" stroke-width="1" />
<line x1="253.25" y1="595.9" x2="253.25" y2="681.8" stroke="#dddddd" stroke-width="1" />
<line x1="91.6" y1="663.91" x2="271.6" y2="663.91" stroke="#dddddd" stroke-width="1" />
<line x1="91.6" y1="645.1" x2="271.6" y2="645.1" stroke="#dddddd" stroke-width="1" />
<line x1="91.6" y1="626.29" x2="271.6" y2="626.29" stroke="#dddddd" stroke-width="1" />
<line x1="91.6" y1="607.48" x2="271.6" y2="607.48" stroke="#dddddd" stroke-width="1" />
<path d="M139.5,700 139.4,671.5 139.5,667.3 139.7,664.8 139.9,663.5 140.2,662.9 140.9,662.6 141.3,662.1 143.9,657.7 146.5,652.4 150,644.5 151.8,641.3 155,636.3 159.3,630.4 161.5,627.8 163.1,626.3 164.9,625 167.6,623.5 168.5,623.2 170.2,622.9 173.7,622.7 176.4,622.9 178.7,623.4 182,625 185.1,626.1 187,627 192.8,630.7 194,631.4 196.3,632.4 206.8,636 209.2,636.5 212.7,637 215,637.5 216.2,638 219.7,639.8 222,640.7 223.2,640.9 227.8,640.6 229,640.7 231.3,641.3 234.8,642.5 238.3,643.2 243,643.7 250,644.2 257,645.4 264,645.4 272,646.3" fill="none" stroke="#c8463c" stroke-width="1.3" stroke-linejoin="round" clip-path="url(#ci2)"/>
<path d="M139.5,700 139.4,646.9 139.7,633.5 139.8,633.2 140.1,634.3 140.4,634 141.5,631 143,627.9 144.7,624.7 146.5,621.8 148.8,618.9 150,617.9 150.6,617.6 151.2,617.4 152.4,617.2 154.8,617.7 155.9,618.4 156.5,619.1 157.1,620 157.7,621.3 158.8,624.6 161.2,632.5 162.9,639.2 164.1,642.8 165.2,645 166.3,646.3 167.6,647.2 169.2,647.8 171.1,648 172.8,648 175.1,647.8 177.9,646.9 180.8,645.6 182.4,645.3 184.2,645.2 186.8,645.4 187.5,645.5 189.7,646.5 191.4,646.7 193.6,646.6 197.5,646.3 204.4,645 208,644.5 209.7,644.5 216.5,645.3 218.5,645.4 222.9,645.1 230.1,644.3 234.9,644.2 239.7,644.2 246.5,644.5 253.3,645.2 257,645.4 262.2,645.3 272,644.9" fill="none" stroke="#4cd64c" stroke-width="1.3" stroke-linejoin="round" clip-path="url(#ci2)"/>
<path d="M139.5,700 139.4,646.9 139.7,633.5 139.8,633.2 140.1,634.3 140.4,634 141.5,631 143,627.9 144.7,624.7 146.5,621.8 148.8,618.9 150,617.9 150.6,617.6 151.8,617.2 152.4,617.2 153.6,617.4 155.4,618.3 157.1,620 158.5,622.4 160.1,626.4 162.3,632.3 164,636.1 165.2,638.4 166.4,640 167.4,641 169.3,641.9 171,642.4 173.8,642.8 175.3,642.8 176.4,642.5 180.9,640.8 183.2,640.5 185,640.5 187,640.7 188.1,641 192.8,642.6 194,642.8 195.2,642.8 196.3,642.6 198.7,642 202.2,641 205.7,639.8 208,639.3 209.1,639.3 210.2,639.5 213.6,640.5 215,640.7 218.4,640.9 225.5,641 226.8,640.9 231.2,640.3 232.5,640.2 235.7,640.3 250.3,641.7 253.6,641.9 254.9,641.9 260.6,641.4 272,641.9" fill="none" stroke="#c832ca" stroke-width="1.3" stroke-linejoin="round" clip-path="url(#ci2)"/>
<path d="M139.5,700 139.5,651.9 139.6,639.6 139.7,639.3 139.9,640.2 140,640 140.5,637.9 140.9,636.5 142.2,634.3 143.4,632.8 144.8,631.4 146.5,630.2 148.3,629.1 150,628.3 151.9,627.9 155,628 156.4,628.2 157.9,628.8 159.3,630 162.3,633.2 168.5,639.2 171.1,641.4 174.5,644.2 177.1,645.9 178,646.3 178.9,646.5 179.8,646.5 182.5,646.3 184.5,646.5 192.1,648.9 195.2,650.1 198.1,650.7 200.5,650.9 202.8,650.7 203.7,650.3 207,647.6 208,647.2 209,647.1 211.2,647.3 216.6,648.3 222.1,649.6 223.9,649.8 225.5,649.8 226.9,649.5 228.1,648.9 231.4,646.7 232.5,646.3 233.7,646.2 234.8,646.3 239.5,647.2 246.5,648 250.8,649.3 251.8,649.5 252.7,649.4 253.5,649 256.1,645.8 257,645.4 258,645.3 260.3,645.5 272,648" fill="none" stroke="#3584ba" stroke-width="1.3" stroke-linejoin="round" clip-path="url(#ci2)"/>
<rect x="91.6" y="595.9" width="180" height="85.9" fill="none" stroke="#3a3a3a" stroke-width="1.4"/>
<line x1="117.05" y1="681.8" x2="117.05" y2="684.6" stroke="#3a3a3a" stroke-width="1.2" />
<line x1="117.05" y1="595.9" x2="117.05" y2="593.1" stroke="#3a3a3a" stroke-width="1.2" />
<text x="117.05" y="694.7" font-size="7.6" text-anchor="middle" font-weight="normal" fill="#555" stroke="#555" stroke-width="0.12" >0.01</text>
<line x1="151.1" y1="681.8" x2="151.1" y2="684.6" stroke="#3a3a3a" stroke-width="1.2" />
<line x1="151.1" y1="595.9" x2="151.1" y2="593.1" stroke="#3a3a3a" stroke-width="1.2" />
<text x="151.1" y="694.7" font-size="7.6" text-anchor="middle" font-weight="normal" fill="#555" stroke="#555" stroke-width="0.12" >0.02</text>
<line x1="185.15" y1="681.8" x2="185.15" y2="684.6" stroke="#3a3a3a" stroke-width="1.2" />
<line x1="185.15" y1="595.9" x2="185.15" y2="593.1" stroke="#3a3a3a" stroke-width="1.2" />
<text x="185.15" y="694.7" font-size="7.6" text-anchor="middle" font-weight="normal" fill="#555" stroke="#555" stroke-width="0.12" >0.03</text>
<line x1="219.2" y1="681.8" x2="219.2" y2="684.6" stroke="#3a3a3a" stroke-width="1.2" />
<line x1="219.2" y1="595.9" x2="219.2" y2="593.1" stroke="#3a3a3a" stroke-width="1.2" />
<text x="219.2" y="694.7" font-size="7.6" text-anchor="middle" font-weight="normal" fill="#555" stroke="#555" stroke-width="0.12" >0.04</text>
<line x1="253.25" y1="681.8" x2="253.25" y2="684.6" stroke="#3a3a3a" stroke-width="1.2" />
<line x1="253.25" y1="595.9" x2="253.25" y2="593.1" stroke="#3a3a3a" stroke-width="1.2" />
<text x="253.25" y="694.7" font-size="7.6" text-anchor="middle" font-weight="normal" fill="#555" stroke="#555" stroke-width="0.12" >0.05</text>
<line x1="88.8" y1="663.91" x2="91.6" y2="663.91" stroke="#3a3a3a" stroke-width="1.2" />
<line x1="271.6" y1="663.91" x2="274.4" y2="663.91" stroke="#3a3a3a" stroke-width="1.2" />
<text x="86.2" y="666.61" font-size="7.6" text-anchor="end" font-weight="normal" fill="#555" stroke="#555" stroke-width="0.12" >550</text>
<line x1="88.8" y1="645.1" x2="91.6" y2="645.1" stroke="#3a3a3a" stroke-width="1.2" />
<line x1="271.6" y1="645.1" x2="274.4" y2="645.1" stroke="#3a3a3a" stroke-width="1.2" />
<text x="86.2" y="647.8" font-size="7.6" text-anchor="end" font-weight="normal" fill="#555" stroke="#555" stroke-width="0.12" >600</text>
<line x1="88.8" y1="626.29" x2="91.6" y2="626.29" stroke="#3a3a3a" stroke-width="1.2" />
<line x1="271.6" y1="626.29" x2="274.4" y2="626.29" stroke="#3a3a3a" stroke-width="1.2" />
<text x="86.2" y="628.99" font-size="7.6" text-anchor="end" font-weight="normal" fill="#555" stroke="#555" stroke-width="0.12" >650</text>
<line x1="88.8" y1="607.48" x2="91.6" y2="607.48" stroke="#3a3a3a" stroke-width="1.2" />
<line x1="271.6" y1="607.48" x2="274.4" y2="607.48" stroke="#3a3a3a" stroke-width="1.2" />
<text x="86.2" y="610.18" font-size="7.6" text-anchor="end" font-weight="normal" fill="#555" stroke="#555" stroke-width="0.12" >700</text>
<rect x="387.5" y="568.6" width="184.3" height="100.4" fill="#fff" stroke="none"/>
<clipPath id="ci3"><rect x="387.5" y="568.6" width="184.3" height="100.4"/></clipPath>
<line x1="408.6" y1="568.6" x2="408.6" y2="669" stroke="#dddddd" stroke-width="1" />
<line x1="445.26" y1="568.6" x2="445.26" y2="669" stroke="#dddddd" stroke-width="1" />
<line x1="481.92" y1="568.6" x2="481.92" y2="669" stroke="#dddddd" stroke-width="1" />
<line x1="518.58" y1="568.6" x2="518.58" y2="669" stroke="#dddddd" stroke-width="1" />
<line x1="555.24" y1="568.6" x2="555.24" y2="669" stroke="#dddddd" stroke-width="1" />
<line x1="387.5" y1="659.3" x2="571.8" y2="659.3" stroke="#dddddd" stroke-width="1" />
<line x1="387.5" y1="624.5" x2="571.8" y2="624.5" stroke="#dddddd" stroke-width="1" />
<line x1="387.5" y1="589.7" x2="571.8" y2="589.7" stroke="#dddddd" stroke-width="1" />
<path d="M443.3,700 443.1,685.7 443.1,673.8 443.3,669 443.6,665.1 444,661.8 446.1,650 450.4,622 451.9,613.8 453.4,607.8 454.8,603.6 455.9,601.2 456.2,600.7 457,600 457.5,599.8 460.1,600 461.2,599.8 465.6,597.3 466.5,597 466.9,597.1 467.6,597.5 469.1,598.9 470.1,600.2 470.9,600.7 471.3,600.7 472.8,599.9 473.3,599.8 473.8,599.9 474.3,600.2 475.3,601.4 476.7,603.6 478,607.3 478.4,608.1 478.9,608.7 479.5,609 480.3,609.1 482.6,609.2 483.3,609.4 483.9,609.9 485.7,612.6 486.2,613.1 486.8,613.5 489.3,614.2 490.4,614.8 492.8,616.7 494.2,618.3 495,618.9 496.1,619.2 500.1,619.8 501,620.1 501.5,620.4 502,621 503.6,623.6 504.1,624.3 504.5,624.7 504.9,624.7 505.3,624.5 507,622.1 508.1,620.1 508.4,619.7 508.8,619.6 509.2,620 510.6,623.6 511,624 511.4,623.9 511.9,623.5 513.4,621.5 513.9,621.1 515.4,620.3 516.4,620.2 516.9,620.4 517.4,620.9 518.8,623.7 519.3,624.4 519.8,624.7 520.4,624.4 521,623.7 522.8,620.9 523.4,620.4 523.9,620.3 524.5,620.4 525.5,621.1 526.5,622 527.1,622.7 528.8,625.4 529.4,626 530,626.2 530.6,625.8 532.9,621.4 533.5,621 534.1,621.4 536.4,626.1 537,626.5 537.6,626.1 539.9,621.4 540.5,621 541.1,621.4 543.4,626.1 544,626.5 544.6,626.1 546.9,621.4 547.5,621 548.1,621.5 550.4,626.6 551,627 551.6,626.6 553.9,621.5 554.5,621 555.1,621.4 557.4,626.1 558,626.5 558.6,626.1 560.9,621.4 561.5,621 562.1,621.5 564.4,626.5 565,627 565.6,626.6 566.2,625.7 567.9,622 568.5,621.5 569.1,621.6 569.8,622.1 572,625" fill="none" stroke="#c8463c" stroke-width="1.3" stroke-linejoin="round" clip-path="url(#ci3)"/>
<path d="M430.2,700 430,685.7 430,673.8 430.2,669 430.5,665.1 431.3,658.6 434.1,643.8 436.6,632.8 437.7,629.5 441.3,620.9 442.6,616 444.6,606.5 446.5,594.1 447.5,589 448,587.3 449,585.2 449.5,584.6 450.4,583.9 451.2,583.7 451.5,583.9 451.8,584.3 452.6,586.1 453,587.6 458,611.6 459.4,617.7 460.9,622.6 462,625.2 463.1,627.2 464.3,628.6 465,629.1 465.7,629.4 466.5,629.5 468,629.4 470,629 470.9,628.6 472.3,627.7 474.3,625.5 475.3,624.7 476.5,624.7 481.4,626.3 482,626.3 482.6,626.2 483.1,625.9 484.1,624.7 486,621.8 487.4,619 487.9,618.4 488.4,618.2 488.9,618.4 489.4,619 493.7,627.1 495.2,628.7 496.2,629.4 496.7,629.4 497.2,629.1 497.7,628.4 499.6,623.7 501.6,619.6 502,618.8 502.5,618.3 503,618.2 503.5,618.6 503.9,619.5 505.4,623.1 505.9,624 507.1,625.2 507.7,625.6 509,626.1 509.6,626.2 510.2,626.1 510.8,625.8 513.2,624 515.4,623 516.9,622.6 517.6,622.6 518.2,622.8 519.9,624.4 520.4,624.8 521,625 521.6,624.8 523.9,622.6 524.5,622.5 525.1,622.8 527.4,625.7 528,626 528.6,625.8 530.9,623.3 531.5,623 532.1,623.2 534.4,625.3 535,625.5 535.6,625.2 537.9,622.7 538.5,622.5 539.1,622.8 541.4,626.2 542,626.5 542.6,626.3 544.9,623.3 545.5,623 546.1,623.2 548.4,625.7 549,626 549.6,625.8 551.9,623.7 552.5,623.5 553.1,623.6 555.4,625.4 556,625.5 556.6,625.3 558.9,623.2 559.5,623 560.1,623.2 562.4,625.3 563,625.5 563.6,625.4 566.3,623.7 567,623.5 568.8,623.6 572,624.5" fill="none" stroke="#4cd64c" stroke-width="1.3" stroke-linejoin="round" clip-path="url(#ci3)"/>
<path d="M429.5,700 429.2,685.7 429.3,673.8 429.5,669 430,665.1 430.6,661.7 433.6,650 436.2,636.4 438.1,627.6 438.8,625.5 439.1,625.1 439.4,625.1 440.1,625.6 440.5,625.5 440.9,624.7 442,621.3 443.4,616.4 444.6,610.9 445.1,607.9 447,594.3 447.5,591.9 448,590.1 449,587.8 449.5,587.1 450.4,586.4 451.2,586.2 451.5,586.4 452.2,587.7 452.6,589 453.5,593.4 455.5,605 457.3,613 458.6,617.7 459.2,619.6 459.8,621 461,623 462.2,624.2 463.4,625.2 464.7,625.7 469,626.8 471.3,627 471.6,627 472.3,626.2 472.7,625.2 473.8,620.7 474.1,619.5 474.5,618.9 474.9,619 475.2,619.6 476.3,622.5 476.7,623.3 477.6,624.5 478.6,625.6 479.6,626.2 480,626.3 482,625.5 482.4,625.6 483.7,626.5 484.2,626.5 484.7,626.2 485.3,625.3 487.2,620.5 487.8,619.4 488.4,618.9 488.9,619.3 489.4,620.5 490.8,625.1 491.3,626.2 491.9,626.8 493.1,627.5 494.4,627.7 495.6,627.6 496.8,627.2 497.5,626.8 498.6,625.5 499.1,624.3 501.1,618.1 501.5,617.4 501.9,617.4 502.3,618 503.3,621 503.7,621.8 506.5,625 508.6,628.4 509.1,628.9 509.6,629.1 510.1,628.8 511.1,627.2 513,622.9 514.4,618.8 514.9,617.8 515.4,617.4 515.9,617.6 516.3,618.3 517.7,621.6 519.7,624.6 521.3,626.6 522,627.3 522.7,627.7 523.3,627.6 523.9,627.1 525.4,624.9 526,624.5 526.6,624.5 529.3,626 530,626 530.7,625.7 533.3,623.2 534,623 534.7,623.2 537.3,625.7 538,626 538.7,625.8 541.3,623.7 542,623.5 542.7,623.7 543.3,624.1 545.3,625.8 546,626 546.7,625.8 549.3,623.7 550,623.5 550.7,623.6 553.3,625.3 554,625.5 554.7,625.4 557.3,623.6 558,623.5 558.7,623.6 561.3,625.3 562,625.5 562.6,625.4 565.2,624.1 566,624 568.1,624.2 572,625" fill="none" stroke="#c832ca" stroke-width="1.3" stroke-linejoin="round" clip-path="url(#ci3)"/>
<path d="M434.1,700 433.9,685.7 433.9,673.8 434.1,669 434.5,665.1 435.5,658.3 437.8,647.7 440.2,638.6 442.1,630.3 443.6,622.7 445.6,610.4 446.6,606.2 447.5,603.5 449,600.7 449.7,599.8 451.2,598.2 452.7,597.2 453.4,597 454,597 454.5,597.3 455.4,598.3 456.3,599.9 457.2,602.1 461.6,615.2 462.8,618.2 463.4,619.3 464.6,620.8 468.1,624.1 470,625.5 470.8,625.9 471.6,626.2 472.3,626.2 472.9,625.9 474.7,624.4 476.7,623.3 478.1,622.7 478.9,622.5 479.6,622.6 480.3,623 482.5,625.2 483.3,625.8 484,626.2 484.7,626.2 485.5,626 488.4,624.7 491.3,624.1 492.8,624 493.5,624.1 495.7,624.8 496.5,624.9 497.2,624.7 497.9,624.2 500.1,621.4 500.8,620.7 501.5,620.4 502.2,620.7 503,621.4 505.2,624.3 505.9,624.7 506.6,624.7 507.4,624.3 509.5,622.8 510.3,622.6 511.1,622.7 514.2,624.3 515,624.5 515.8,624.4 519.2,623.1 520,623 520.8,623.1 524.2,624.4 525,624.5 525.8,624.4 529.2,623.3 530,623.2 530.8,623.3 534.2,624.4 535,624.5 535.8,624.4 539.2,623.6 540,623.5 540.8,623.6 544.2,624.4 545,624.5 545.8,624.4 549.2,623.6 550,623.5 550.8,623.6 554.2,624.4 555,624.5 555.8,624.5 560,623.8 565,624.5 572,624" fill="none" stroke="#3584ba" stroke-width="1.3" stroke-linejoin="round" clip-path="url(#ci3)"/>
<rect x="387.5" y="568.6" width="184.3" height="100.4" fill="none" stroke="#3a3a3a" stroke-width="1.4"/>
<line x1="408.6" y1="669" x2="408.6" y2="671.8" stroke="#3a3a3a" stroke-width="1.2" />
<line x1="408.6" y1="568.6" x2="408.6" y2="565.8" stroke="#3a3a3a" stroke-width="1.2" />
<text x="408.6" y="681.9" font-size="7.6" text-anchor="middle" font-weight="normal" fill="#555" stroke="#555" stroke-width="0.12" >1.5</text>
<line x1="445.26" y1="669" x2="445.26" y2="671.8" stroke="#3a3a3a" stroke-width="1.2" />
<line x1="445.26" y1="568.6" x2="445.26" y2="565.8" stroke="#3a3a3a" stroke-width="1.2" />
<text x="445.26" y="681.9" font-size="7.6" text-anchor="middle" font-weight="normal" fill="#555" stroke="#555" stroke-width="0.12" >1.52</text>
<line x1="481.92" y1="669" x2="481.92" y2="671.8" stroke="#3a3a3a" stroke-width="1.2" />
<line x1="481.92" y1="568.6" x2="481.92" y2="565.8" stroke="#3a3a3a" stroke-width="1.2" />
<text x="481.92" y="681.9" font-size="7.6" text-anchor="middle" font-weight="normal" fill="#555" stroke="#555" stroke-width="0.12" >1.54</text>
<line x1="518.58" y1="669" x2="518.58" y2="671.8" stroke="#3a3a3a" stroke-width="1.2" />
<line x1="518.58" y1="568.6" x2="518.58" y2="565.8" stroke="#3a3a3a" stroke-width="1.2" />
<text x="518.58" y="681.9" font-size="7.6" text-anchor="middle" font-weight="normal" fill="#555" stroke="#555" stroke-width="0.12" >1.56</text>
<line x1="555.24" y1="669" x2="555.24" y2="671.8" stroke="#3a3a3a" stroke-width="1.2" />
<line x1="555.24" y1="568.6" x2="555.24" y2="565.8" stroke="#3a3a3a" stroke-width="1.2" />
<text x="555.24" y="681.9" font-size="7.6" text-anchor="middle" font-weight="normal" fill="#555" stroke="#555" stroke-width="0.12" >1.58</text>
<line x1="384.7" y1="659.3" x2="387.5" y2="659.3" stroke="#3a3a3a" stroke-width="1.2" />
<line x1="571.8" y1="659.3" x2="574.6" y2="659.3" stroke="#3a3a3a" stroke-width="1.2" />
<text x="382.1" y="662" font-size="7.6" text-anchor="end" font-weight="normal" fill="#555" stroke="#555" stroke-width="0.12" >750</text>
<line x1="384.7" y1="624.5" x2="387.5" y2="624.5" stroke="#3a3a3a" stroke-width="1.2" />
<line x1="571.8" y1="624.5" x2="574.6" y2="624.5" stroke="#3a3a3a" stroke-width="1.2" />
<text x="382.1" y="627.2" font-size="7.6" text-anchor="end" font-weight="normal" fill="#555" stroke="#555" stroke-width="0.12" >800</text>
<line x1="384.7" y1="589.7" x2="387.5" y2="589.7" stroke="#3a3a3a" stroke-width="1.2" />
<line x1="571.8" y1="589.7" x2="574.6" y2="589.7" stroke="#3a3a3a" stroke-width="1.2" />
<text x="382.1" y="592.4" font-size="7.6" text-anchor="end" font-weight="normal" fill="#555" stroke="#555" stroke-width="0.12" >850</text>
<line x1="69.5" y1="515.7" x2="123.32" y2="577.53" stroke="#000" stroke-width="1.7" />
<path d="M126.6,581.3 L121.08,578.15 L124.24,575.4 Z" fill="#000"/>
<line x1="529.9" y1="447.8" x2="521.12" y2="552.22" stroke="#000" stroke-width="1.7" />
<path d="M520.7,557.2 L519.11,551.05 L523.3,551.4 Z" fill="#000"/>
</svg>
</body></html>
